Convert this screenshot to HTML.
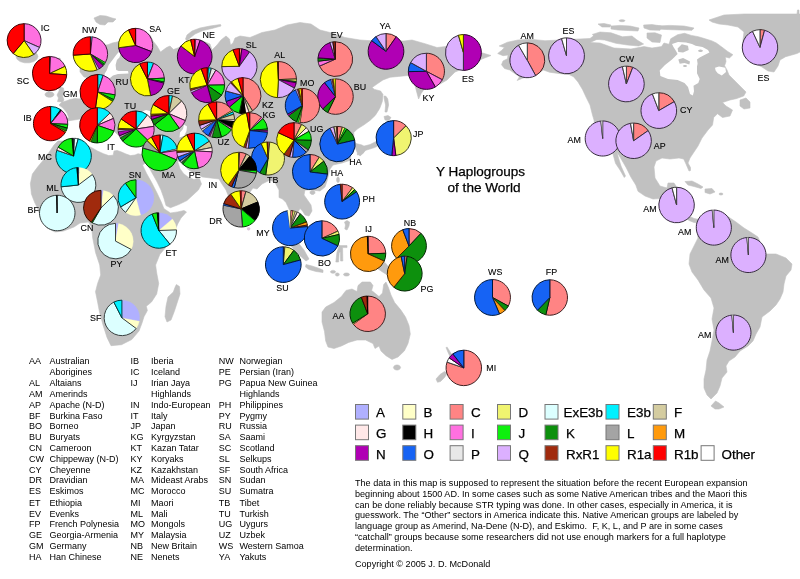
<!DOCTYPE html>
<html lang="en"><head><meta charset="utf-8"><title>Y Haplogroups of the World</title>
<style>html,body{margin:0;padding:0;background:#fff}body{width:800px;height:579px;overflow:hidden}svg{display:block}text{font-family:"Liberation Sans",Arial,Helvetica,sans-serif;fill:#000}.s{font-size:9px}.b{font-size:13.4px;fill:#000;stroke:#000;stroke-width:0.25px}.l{font-size:9.6px;stroke:#000;stroke-width:0.12px}</style></head><body>
<svg width="800" height="579" viewBox="0 0 800 579">
<rect width="800" height="579" fill="#fff"/>
<g filter="url(#bl)"><path d="M84.0,77.0L80.0,72.0L80.0,62.0L86.0,52.0L98.0,46.0L108.0,44.7L112.3,43.0L118.3,41.7L128.0,36.0L140.0,33.0L150.0,35.0L153.0,41.0L157.0,46.0L160.5,52.0L166.5,47.6L170.0,46.0L173.5,49.5L179.0,47.5L183.0,44.0L190.0,42.0L200.0,40.0L210.0,44.0L212.0,50.0L217.0,45.0L221.0,40.0L226.0,36.0L229.5,39.0L230.5,45.0L233.0,43.0L235.0,38.0L240.0,36.0L250.0,37.5L262.0,32.5L275.0,30.0L287.0,25.0L300.0,22.5L311.0,24.0L320.0,30.0L330.0,32.5L345.0,37.5L360.0,40.0L375.0,41.0L404.0,41.0L412.0,40.0L425.0,43.7L437.0,47.5L446.0,46.5L460.0,48.0L481.0,52.5L491.0,55.5L482.0,59.0L470.0,66.0L455.0,72.0L447.0,80.0L440.0,84.0L428.0,87.0L424.6,88.5L421.0,93.7L418.6,99.0L416.0,89.4L414.0,80.0L408.0,75.5L398.7,76.4L390.0,77.3L383.0,79.9L377.0,84.0L372.0,87.6L374.5,89.4L380.6,91.0L383.0,94.5L382.3,101.5L379.7,108.4L375.4,115.3L370.0,120.4L364.0,124.8L357.3,129.0L353.8,132.5L354.0,140.0L356.0,143.5L362.0,145.0L365.0,147.0L364.0,152.5L360.0,156.0L357.0,152.0L355.0,147.0L350.0,152.0L351.0,160.0L342.0,163.0L333.0,165.0L330.0,169.0L328.5,175.0L327.0,181.0L325.0,187.0L320.0,191.0L312.0,190.0L305.0,190.0L304.0,195.0L307.5,200.0L311.0,205.0L312.0,211.0L309.0,216.0L305.0,215.0L302.5,211.0L300.0,208.5L298.0,212.0L301.0,218.0L304.0,226.0L307.0,233.0L305.0,237.0L300.0,232.0L296.0,224.0L292.0,216.0L289.0,209.0L286.0,202.5L282.5,199.0L279.0,197.5L279.0,190.0L275.0,182.5L270.0,180.0L262.0,184.0L257.0,189.0L253.0,188.0L250.0,192.0L249.0,198.0L247.0,210.0L244.0,221.0L242.0,226.0L238.0,222.0L234.0,212.0L230.0,200.0L226.0,190.0L222.0,184.0L219.0,179.0L210.7,178.0L202.4,177.0L199.5,175.5L195.0,173.5L188.7,170.0L185.0,166.0L182.0,161.0L178.0,161.0L178.0,162.5L180.0,168.7L183.7,173.7L188.7,177.5L194.0,179.5L197.0,178.5L199.5,178.7L201.5,184.0L198.4,190.0L193.0,195.0L187.0,200.5L178.7,204.6L170.5,207.7L166.0,205.6L164.0,198.4L161.0,190.0L157.0,181.8L151.8,172.5L147.7,165.0L145.5,163.0L142.5,165.0L146.6,173.5L151.8,182.8L157.0,193.0L161.0,201.5L164.0,208.7L170.5,213.0L177.7,211.9L184.0,210.5L186.5,212.0L181.0,218.0L177.7,224.0L172.0,238.0L165.0,248.3L159.8,254.5L155.6,265.0L156.7,273.0L158.7,283.5L156.7,294.0L151.5,302.0L146.3,306.3L147.4,310.5L144.0,316.7L142.0,323.0L139.0,331.0L131.8,339.5L121.5,344.7L111.0,345.7L107.0,337.4L103.0,325.0L99.5,312.0L97.6,302.0L95.5,291.8L97.6,283.5L100.7,275.0L99.7,265.0L95.5,252.4L94.7,248.0L92.6,237.5L91.6,227.0L88.5,222.0L80.0,223.0L74.0,227.0L63.6,231.0L55.0,232.0L47.0,228.0L41.0,218.0L37.6,208.5L34.5,202.0L31.4,194.0L30.4,183.6L32.4,174.0L37.6,167.0L42.8,160.7L49.0,152.4L54.0,145.0L58.0,141.0L66.0,141.0L76.0,141.0L86.0,145.0L92.2,148.0L97.5,151.0L103.5,153.7L108.7,155.6L113.2,155.2L114.0,151.0L117.0,150.4L121.5,152.0L126.0,154.0L130.5,155.6L135.0,155.0L138.0,153.7L141.7,154.5L144.0,158.0L145.5,163.0L144.0,152.0L143.0,147.0L138.0,144.0L130.0,142.0L122.0,138.0L117.0,134.0L114.0,131.0L110.0,134.0L104.0,133.0L98.0,132.0L92.0,126.0L86.0,122.0L80.0,119.0L74.0,120.0L67.0,121.0L66.0,128.0L60.0,136.0L54.0,138.0L42.0,137.0L37.0,130.0L36.0,118.0L40.0,110.0L50.0,108.0L60.0,110.0L66.0,118.0L69.0,118.0L67.0,113.0L63.0,108.0L59.0,105.0L62.0,102.0L66.0,101.0L70.0,99.5L75.0,98.5L80.0,99.0L82.0,92.0L84.0,86.0L88.0,82.0L90.0,78.0Z M60.0,87.0L63.5,88.0L64.0,92.0L62.5,96.0L64.0,100.0L62.0,102.0L57.5,101.5L58.5,98.0L57.0,95.0L59.0,91.0Z M54.0,94.5L53.6,95.7L52.3,96.7L50.5,97.2L48.5,97.2L46.7,96.7L45.4,95.7L45.0,94.5L45.4,93.3L46.7,92.3L48.5,91.8L50.5,91.8L52.3,92.3L53.6,93.3Z M52.0,60.0L60.0,58.0L62.0,66.0L58.0,78.0L54.0,88.0L50.0,84.0L50.0,70.0Z M38.0,56.5L36.9,59.3L33.9,61.6L29.4,62.8L24.6,62.8L20.1,61.6L17.1,59.3L16.0,56.5L17.1,53.7L20.1,51.4L24.6,50.2L29.4,50.2L33.9,51.4L36.9,53.7Z M94.0,18.0L100.0,15.5L106.0,16.0L112.0,18.0L116.0,19.0L113.0,22.0L108.0,22.0L105.0,25.0L100.0,24.5L96.0,22.0Z M185.5,39.0L187.0,35.0L192.0,31.0L200.0,28.0L210.0,26.0L220.5,24.5L221.0,26.0L212.0,28.5L203.0,30.5L195.0,34.0L190.0,38.0L187.0,41.0Z M384.0,96.0L386.0,96.3L387.8,99.0L388.6,105.0L387.0,112.0L385.0,112.0L385.6,105.0L384.2,99.0Z M377.0,141.0L381.0,137.0L385.0,131.0L388.0,124.0L390.0,120.5L393.0,122.0L392.0,128.0L389.0,134.0L384.0,141.0L378.9,145.6L374.5,147.6L366.0,150.2L360.7,154.5L357.3,155.0L357.5,150.0L362.5,146.4L370.0,144.6Z M384.0,116.5L388.0,115.5L391.0,117.5L389.0,120.5L385.0,120.0Z M339.4,179.8L339.3,181.0L338.9,182.0L338.3,182.5L337.7,182.5L337.1,182.0L336.7,181.0L336.6,179.8L336.7,178.6L337.1,177.6L337.7,177.1L338.3,177.1L338.9,177.6L339.3,178.6Z M315.0,192.5L314.8,193.4L314.1,194.1L313.1,194.4L311.9,194.4L310.9,194.1L310.2,193.4L310.0,192.5L310.2,191.6L310.9,190.9L311.9,190.6L313.1,190.6L314.1,190.9L314.8,191.6Z M176.4,284.5L179.5,286.6L180.0,294.0L177.4,302.0L174.3,311.5L171.0,320.0L167.0,322.0L165.0,316.7L166.0,306.3L168.0,297.0L173.3,292.0L175.3,286.6Z M337.0,186.0L341.0,184.0L343.0,190.0L341.0,196.0L338.0,193.0Z M344.5,222.0L347.0,220.5L349.6,222.0L349.0,226.0L347.0,230.0L344.8,229.0L345.5,225.0Z M283.0,231.0L288.0,232.0L296.0,240.0L304.0,250.0L309.0,259.0L306.0,261.0L298.0,254.0L290.0,245.0L284.0,237.0Z M306.0,264.5L312.0,266.0L318.0,268.0L323.0,270.0L323.0,272.5L316.0,271.5L309.0,269.5L305.5,267.0Z M335.6,271.8L335.3,272.4L334.6,272.9L333.6,273.2L332.4,273.2L331.4,272.9L330.7,272.4L330.4,271.8L330.7,271.2L331.4,270.7L332.4,270.4L333.6,270.4L334.6,270.7L335.3,271.2Z M339.3,274.5L339.1,275.2L338.5,275.8L337.7,276.1L336.9,276.1L336.1,275.8L335.5,275.2L335.3,274.5L335.5,273.8L336.1,273.2L336.9,272.9L337.7,272.9L338.5,273.2L339.1,273.8Z M349.5,274.5L349.2,275.2L348.4,275.7L347.2,276.0L345.8,276.0L344.6,275.7L343.8,275.2L343.5,274.5L343.8,273.8L344.6,273.3L345.8,273.0L347.2,273.0L348.4,273.3L349.2,273.8Z M313.0,232.0L320.0,226.0L328.0,222.0L333.0,226.0L331.0,234.0L333.0,242.0L328.0,250.0L320.0,252.0L314.0,246.0L311.0,239.0Z M339.0,245.6L347.0,245.6L347.0,247.6L342.6,247.6L342.8,261.0L340.6,261.0L340.4,252.0L339.2,252.5L338.6,262.0L335.8,262.0L337.0,252.0L338.6,247.6Z M355.0,248.0L362.0,244.0L372.0,247.0L383.0,262.0L385.0,262.6L390.0,268.7L398.0,272.0L408.0,280.0L414.0,287.0L410.0,288.0L402.0,284.0L394.0,281.0L387.0,274.7L382.5,272.0L374.0,266.0L366.0,262.0L358.0,256.0Z M410.0,257.0L416.0,258.0L420.0,255.0L421.0,258.0L416.0,261.0L410.0,260.0Z M322.0,312.0L325.7,307.0L334.0,302.5L341.4,296.5L346.0,290.4L352.0,289.0L357.0,291.6L358.0,285.6L362.0,282.0L370.4,282.0L373.0,285.6L371.6,290.4L373.0,291.6L379.0,296.5L382.5,293.0L383.7,284.4L386.0,282.0L388.6,288.0L391.0,295.0L394.6,302.5L400.7,309.8L405.5,317.0L409.0,325.5L410.3,334.0L408.0,343.6L404.3,351.0L398.0,357.0L392.0,359.4L386.0,355.7L381.0,351.0L379.0,346.0L375.0,348.5L373.0,343.6L365.6,340.0L357.0,340.0L348.7,342.4L341.4,346.0L334.0,348.5L328.0,347.0L325.7,341.0L324.5,331.5L322.0,322.0Z M400.6,367.5L400.2,368.6L399.2,369.5L397.8,370.0L396.2,370.0L394.8,369.5L393.8,368.6L393.4,367.5L393.8,366.4L394.8,365.5L396.2,365.0L397.8,365.0L399.2,365.5L400.2,366.4Z M446.0,347.5L447.2,347.2L450.5,352.5L454.0,358.0L458.0,360.0L456.0,364.0L452.0,360.0L448.5,353.5Z M436.0,379.0L440.0,374.5L444.5,371.5L447.5,373.0L444.5,377.5L440.5,381.5L437.5,382.3Z M497.7,53.5L501.5,50.5L504.5,47.5L499.2,46.0L507.5,42.2L518.0,40.0L530.0,39.2L545.0,40.7L560.0,40.0L575.0,39.2L590.0,38.5L596.0,34.0L600.0,38.0L590.0,42.5L600.0,43.0L614.0,48.0L631.0,49.0L644.0,46.6L652.0,48.0L661.5,46.6L664.0,43.0L669.0,44.3L670.7,38.8L677.6,34.7L684.5,33.3L691.4,35.4L698.3,36.7L705.2,38.8L712.0,40.9L716.3,43.0L721.8,47.0L727.3,51.2L732.9,54.7L729.4,58.0L725.3,57.0L726.0,61.6L724.6,65.7L727.0,70.0L729.0,75.0L734.0,80.0L740.0,86.0L746.0,92.0L743.7,96.0L736.0,98.7L730.0,100.0L722.5,102.5L726.0,106.0L732.5,110.0L730.0,116.0L722.5,117.5L717.5,113.7L713.7,117.5L712.5,125.0L708.0,130.0L702.0,138.0L698.0,146.0L694.0,152.0L690.0,158.0L688.0,163.0L690.5,167.5L690.5,170.5L689.0,171.0L686.0,164.0L683.7,159.0L679.0,158.0L670.0,159.0L662.0,158.0L656.0,161.0L654.0,167.0L655.0,178.0L660.0,186.0L667.0,188.0L668.0,183.0L674.0,183.0L676.0,186.0L674.0,192.0L680.0,196.0L686.0,202.0L689.0,210.0L690.0,216.5L694.0,218.5L699.0,219.5L700.0,223.0L694.0,222.5L689.0,220.5L684.0,216.0L676.0,210.0L666.0,204.0L659.0,198.6L653.0,199.0L645.0,196.0L638.0,191.3L635.8,185.0L631.0,177.3L626.4,168.0L620.0,157.0L617.0,152.0L618.5,158.0L621.0,166.0L625.5,176.0L624.3,177.5L620.0,170.0L615.5,163.3L613.2,154.8L611.0,150.0L606.0,146.0L598.0,140.0L595.0,130.0L594.0,120.0L592.5,115.0L590.0,105.0L586.0,97.0L582.5,89.5L578.0,82.0L573.5,76.7L569.0,74.5L560.0,73.7L549.5,72.2L543.5,70.0L535.0,75.0L522.5,78.2L517.2,80.5L519.5,76.7L514.0,73.0L509.7,70.0L504.5,68.5L501.5,64.7L503.0,61.0L507.5,58.7L508.0,55.0L503.0,55.7Z M709.0,20.0L724.0,15.0L744.0,14.0L797.0,14.0L797.5,10.0L799.0,10.0L799.0,14.0L801.0,14.0L801.0,51.5L797.0,53.5L791.8,55.0L785.6,56.7L780.0,60.0L778.0,66.0L774.0,72.0L768.0,71.0L762.0,67.0L752.0,62.0L744.0,50.0L743.0,40.0L744.0,32.0L738.0,27.0L728.0,25.0L719.0,24.0L712.0,22.0Z M592.4,34.4L600.0,32.0L611.0,32.8L622.5,36.8L632.0,36.0L637.0,40.0L643.6,44.0L638.8,46.0L627.4,45.0L616.0,43.3L604.6,40.0L596.5,39.3Z M598.0,24.0L604.0,23.5L611.0,25.0L610.0,27.0L602.0,27.0Z M611.0,26.0L620.0,25.4L630.0,26.0L639.0,28.0L638.0,31.0L628.0,30.5L618.0,30.0L611.0,29.0Z M625.0,20.7L624.7,21.1L623.9,21.5L622.7,21.7L621.3,21.7L620.1,21.5L619.3,21.1L619.0,20.7L619.3,20.3L620.1,19.9L621.3,19.7L622.7,19.7L623.9,19.9L624.7,20.3Z M643.6,25.0L652.0,24.6L661.5,26.0L660.0,30.3L650.0,30.0L644.0,28.0Z M656.6,26.0L670.0,25.4L684.0,26.0L694.0,28.0L692.0,30.3L680.0,30.0L666.0,29.5L657.0,29.0Z M647.0,33.0L655.0,32.8L661.5,35.0L660.0,42.5L652.0,42.0L647.0,38.0Z M740.0,100.0L746.0,98.0L750.0,102.0L750.0,108.0L744.0,109.0L740.0,106.0Z M685.0,181.5L692.0,181.0L698.0,184.0L703.0,187.0L701.0,188.5L694.0,186.5L688.0,185.0Z M705.0,189.0L712.0,188.5L715.0,192.0L710.0,194.0L705.0,192.5Z M723.0,194.0L722.8,194.4L722.2,194.8L721.4,195.0L720.6,195.0L719.8,194.8L719.2,194.4L719.0,194.0L719.2,193.6L719.8,193.2L720.6,193.0L721.4,193.0L722.2,193.2L722.8,193.6Z M700.0,220.0L704.0,216.0L710.0,214.0L722.0,212.0L730.0,218.0L736.0,222.0L744.0,228.0L752.0,233.0L758.0,237.0L765.0,254.0L776.0,254.0L786.0,258.0L792.0,264.0L791.0,270.0L786.0,276.0L784.0,284.0L783.0,292.0L780.0,299.0L776.0,305.0L770.0,311.0L762.0,317.0L760.0,327.0L756.0,334.0L753.0,341.0L748.0,346.0L740.0,351.0L735.0,357.0L729.0,361.0L726.0,366.0L727.0,372.0L722.0,378.0L720.0,386.0L717.0,393.0L711.0,399.0L707.0,395.0L704.0,388.0L704.0,379.0L706.0,370.0L707.0,360.0L710.0,351.0L712.0,341.0L714.0,330.0L712.0,319.0L714.0,308.0L711.0,298.0L704.0,290.0L698.0,280.0L692.0,272.0L689.0,264.0L690.0,254.0L694.0,246.0L698.0,238.0L697.0,230.0L696.0,224.0Z M711.0,406.0L715.5,401.0L719.0,403.0L724.0,407.0L719.0,409.0L715.0,409.0Z" fill="#c1c1c1" stroke="#c1c1c1" stroke-width="0.6" stroke-linejoin="round"/>
<path d="M119.4,51.2L121.2,52.5L119.4,57.5L116.9,60.0L115.6,65.0L116.2,70.0L118.7,71.0L128.0,71.0L128.5,73.5L118.0,74.0L113.0,75.5L110.0,78.0L105.0,78.0L104.5,74.0L106.9,70.0L108.7,65.0L112.5,60.0L116.2,55.0Z M141.0,112.0L146.0,110.0L150.0,111.0L152.0,114.0L149.0,116.5L144.0,116.0L141.0,115.0Z M184.0,124.5L187.0,126.5L186.5,131.0L184.0,136.0L179.5,137.5L180.0,132.5L183.0,129.0Z M676.0,51.0L673.5,47.0L672.0,44.0L678.0,42.0L686.0,42.5L692.0,44.0L695.6,45.7L702.5,47.0L708.0,49.9L709.4,52.6L705.0,54.7L699.7,57.5L697.0,59.5L697.6,63.7L697.0,66.4L697.0,73.3L699.7,78.9L698.3,83.0L693.5,85.8L694.0,91.3L692.8,95.4L690.0,94.0L688.0,87.0L684.5,83.0L677.6,80.0L668.0,78.9L660.4,76.0L659.7,70.6L665.0,65.0L672.0,59.5L677.6,54.0Z M715.0,67.8L719.0,66.4L725.3,67.8L726.0,72.0L721.8,75.4L717.7,73.3L715.6,70.6Z" fill="#fff"/>
<path d="M250.3,228.8L250.1,229.5L249.7,230.1L249.0,230.4L248.2,230.4L247.5,230.1L247.1,229.5L246.9,228.8L247.1,228.1L247.5,227.5L248.2,227.2L249.0,227.2L249.7,227.5L250.1,228.1Z" fill="#dcc8dc"/>
<path d="M677.6,48.5L681.8,44.3L688.0,45.7L688.7,49.9L683.1,52.6L678.3,51.9Z M678.3,59.5L683.1,57.9L690.0,61.6L689.4,64.4L684.5,63.0L679.7,63.7Z M687.0,66.0L686.8,66.4L686.2,66.8L685.4,67.0L684.6,67.0L683.8,66.8L683.2,66.4L683.0,66.0L683.2,65.6L683.8,65.2L684.6,65.0L685.4,65.0L686.2,65.2L686.8,65.6Z M702.9,50.8L702.7,51.3L702.0,51.7L701.0,52.0L700.0,52.0L699.0,51.7L698.3,51.3L698.1,50.8L698.3,50.3L699.0,49.9L700.0,49.6L701.0,49.6L702.0,49.9L702.7,50.3Z" fill="#c1c1c1"/>
</g>
<defs><filter id="bl" x="-2%" y="-2%" width="104%" height="104%"><feGaussianBlur stdDeviation="0.45"/></filter><filter id="tb" x="-1%" y="-1%" width="102%" height="102%"><feGaussianBlur stdDeviation="0.3"/></filter><filter id="pb" x="-1%" y="-1%" width="102%" height="102%"><feGaussianBlur stdDeviation="0.3"/></filter></defs>
<g filter="url(#pb)">
<g><path d="M24.10,40.60L24.10,23.65A16.95,16.95 0 0,1 39.58,47.49Z" fill="#ff70e0" stroke="#3f1c38" stroke-width="1.0" stroke-linejoin="round"/><path d="M24.10,40.60L39.58,47.49A16.95,16.95 0 0,1 33.82,54.48Z" fill="#dcb0ff" stroke="#372c3f" stroke-width="1.0" stroke-linejoin="round"/><path d="M24.10,40.60L33.82,54.48A16.95,16.95 0 0,1 13.20,53.58Z" fill="#ffff00" stroke="#3f3f00" stroke-width="1.0" stroke-linejoin="round"/><path d="M24.10,40.60L13.20,53.58A16.95,16.95 0 0,1 24.10,23.65Z" fill="#ff0000" stroke="#3f0000" stroke-width="1.0" stroke-linejoin="round"/></g>
<g><path d="M49.60,73.60L49.60,56.45A17.15,17.15 0 0,1 50.50,56.47Z" fill="#000000" stroke="#000000" stroke-width="0.6" stroke-linejoin="round"/><path d="M49.60,73.60L50.50,56.47A17.15,17.15 0 0,1 65.14,66.35Z" fill="#ff70e0" stroke="#3f1c38" stroke-width="1.0" stroke-linejoin="round"/><path d="M49.60,73.60L65.14,66.35A17.15,17.15 0 0,1 66.71,74.80Z" fill="#ffff00" stroke="#3f3f00" stroke-width="1.0" stroke-linejoin="round"/><path d="M49.60,73.60L66.71,74.80A17.15,17.15 0 1,1 49.60,56.45Z" fill="#ff0000" stroke="#3f0000" stroke-width="1.0" stroke-linejoin="round"/></g>
<g><path d="M90.40,54.00L90.40,36.75A17.25,17.25 0 0,1 92.20,36.84Z" fill="#00f0ff" stroke="#003c3f" stroke-width="0.6" stroke-linejoin="round"/><path d="M90.40,54.00L92.20,36.84A17.25,17.25 0 0,1 105.34,62.62Z" fill="#ff70e0" stroke="#3f1c38" stroke-width="1.0" stroke-linejoin="round"/><path d="M90.40,54.00L105.34,62.62A17.25,17.25 0 0,1 104.36,64.14Z" fill="#10f010" stroke="#043c04" stroke-width="0.6" stroke-linejoin="round"/><path d="M90.40,54.00L104.36,64.14A17.25,17.25 0 0,1 103.22,65.54Z" fill="#109010" stroke="#042404" stroke-width="0.6" stroke-linejoin="round"/><path d="M90.40,54.00L103.22,65.54A17.25,17.25 0 0,1 99.03,68.94Z" fill="#b000b4" stroke="#2c002d" stroke-width="1.0" stroke-linejoin="round"/><path d="M90.40,54.00L99.03,68.94A17.25,17.25 0 0,1 97.14,69.88Z" fill="#dcb0ff" stroke="#372c3f" stroke-width="0.6" stroke-linejoin="round"/><path d="M90.40,54.00L97.14,69.88A17.25,17.25 0 0,1 73.19,55.20Z" fill="#ffff00" stroke="#3f3f00" stroke-width="1.0" stroke-linejoin="round"/><path d="M90.40,54.00L73.19,55.20A17.25,17.25 0 0,1 90.40,36.75Z" fill="#ff0000" stroke="#3f0000" stroke-width="1.0" stroke-linejoin="round"/></g>
<g><path d="M135.60,45.50L135.60,28.35A17.15,17.15 0 0,1 151.61,51.65Z" fill="#ff70e0" stroke="#3f1c38" stroke-width="1.0" stroke-linejoin="round"/><path d="M135.60,45.50L151.61,51.65A17.15,17.15 0 0,1 118.60,47.74Z" fill="#b000b4" stroke="#2c002d" stroke-width="1.0" stroke-linejoin="round"/><path d="M135.60,45.50L118.60,47.74A17.15,17.15 0 0,1 128.62,29.83Z" fill="#ffff00" stroke="#3f3f00" stroke-width="1.0" stroke-linejoin="round"/><path d="M135.60,45.50L128.62,29.83A17.15,17.15 0 0,1 135.60,28.35Z" fill="#ff0000" stroke="#3f0000" stroke-width="1.0" stroke-linejoin="round"/></g>
<g><path d="M147.40,79.00L147.40,62.05A16.95,16.95 0 0,1 153.61,63.23Z" fill="#00f0ff" stroke="#003c3f" stroke-width="1.0" stroke-linejoin="round"/><path d="M147.40,79.00L153.61,63.23A16.95,16.95 0 0,1 164.33,78.11Z" fill="#ff70e0" stroke="#3f1c38" stroke-width="1.0" stroke-linejoin="round"/><path d="M147.40,79.00L164.33,78.11A16.95,16.95 0 0,1 164.09,81.94Z" fill="#10f010" stroke="#043c04" stroke-width="1.0" stroke-linejoin="round"/><path d="M147.40,79.00L164.09,81.94A16.95,16.95 0 0,1 163.85,83.10Z" fill="#109010" stroke="#042404" stroke-width="0.6" stroke-linejoin="round"/><path d="M147.40,79.00L163.85,83.10A16.95,16.95 0 0,1 150.63,95.64Z" fill="#b000b4" stroke="#2c002d" stroke-width="1.0" stroke-linejoin="round"/><path d="M147.40,79.00L150.63,95.64A16.95,16.95 0 0,1 139.70,63.90Z" fill="#ffff00" stroke="#3f3f00" stroke-width="1.0" stroke-linejoin="round"/><path d="M147.40,79.00L139.70,63.90A16.95,16.95 0 0,1 147.40,62.05Z" fill="#ff0000" stroke="#3f0000" stroke-width="1.0" stroke-linejoin="round"/></g>
<g><path d="M97.70,92.10L97.70,74.45A17.65,17.65 0 0,1 103.15,75.31Z" fill="#00f0ff" stroke="#003c3f" stroke-width="1.0" stroke-linejoin="round"/><path d="M97.70,92.10L103.15,75.31A17.65,17.65 0 0,1 115.13,94.86Z" fill="#ff70e0" stroke="#3f1c38" stroke-width="1.0" stroke-linejoin="round"/><path d="M97.70,92.10L115.13,94.86A17.65,17.65 0 0,1 113.70,99.56Z" fill="#10f010" stroke="#043c04" stroke-width="1.0" stroke-linejoin="round"/><path d="M97.70,92.10L113.70,99.56A17.65,17.65 0 0,1 112.67,101.45Z" fill="#109010" stroke="#042404" stroke-width="0.6" stroke-linejoin="round"/><path d="M97.70,92.10L112.67,101.45A17.65,17.65 0 0,1 95.24,109.58Z" fill="#ffff00" stroke="#3f3f00" stroke-width="1.0" stroke-linejoin="round"/><path d="M97.70,92.10L95.24,109.58A17.65,17.65 0 0,1 97.70,74.45Z" fill="#ff0000" stroke="#3f0000" stroke-width="1.0" stroke-linejoin="round"/></g>
<g><path d="M97.30,125.30L97.30,107.65A17.65,17.65 0 0,1 110.00,113.04Z" fill="#00f0ff" stroke="#003c3f" stroke-width="1.0" stroke-linejoin="round"/><path d="M97.30,125.30L110.00,113.04A17.65,17.65 0 0,1 113.55,118.40Z" fill="#ffe8e8" stroke="#3f3a3a" stroke-width="1.0" stroke-linejoin="round"/><path d="M97.30,125.30L113.55,118.40A17.65,17.65 0 0,1 113.99,131.05Z" fill="#ff70e0" stroke="#3f1c38" stroke-width="1.0" stroke-linejoin="round"/><path d="M97.30,125.30L113.99,131.05A17.65,17.65 0 0,1 97.30,142.95Z" fill="#10f010" stroke="#043c04" stroke-width="1.0" stroke-linejoin="round"/><path d="M97.30,125.30L97.30,142.95A17.65,17.65 0 0,1 90.69,141.66Z" fill="#109010" stroke="#042404" stroke-width="1.0" stroke-linejoin="round"/><path d="M97.30,125.30L90.69,141.66A17.65,17.65 0 0,1 89.56,141.16Z" fill="#ffff00" stroke="#3f3f00" stroke-width="0.6" stroke-linejoin="round"/><path d="M97.30,125.30L89.56,141.16A17.65,17.65 0 0,1 97.30,107.65Z" fill="#ff0000" stroke="#3f0000" stroke-width="1.0" stroke-linejoin="round"/></g>
<g><path d="M50.60,123.60L50.60,106.45A17.15,17.15 0 0,1 60.68,109.73Z" fill="#00f0ff" stroke="#003c3f" stroke-width="1.0" stroke-linejoin="round"/><path d="M50.60,123.60L60.68,109.73A17.15,17.15 0 0,1 61.62,110.46Z" fill="#000000" stroke="#000000" stroke-width="0.6" stroke-linejoin="round"/><path d="M50.60,123.60L61.62,110.46A17.15,17.15 0 0,1 67.73,124.35Z" fill="#ff70e0" stroke="#3f1c38" stroke-width="1.0" stroke-linejoin="round"/><path d="M50.60,123.60L67.73,124.35A17.15,17.15 0 0,1 67.17,128.04Z" fill="#10f010" stroke="#043c04" stroke-width="1.0" stroke-linejoin="round"/><path d="M50.60,123.60L67.17,128.04A17.15,17.15 0 0,1 65.88,131.39Z" fill="#109010" stroke="#042404" stroke-width="1.0" stroke-linejoin="round"/><path d="M50.60,123.60L65.88,131.39A17.15,17.15 0 0,1 65.30,132.43Z" fill="#ffff00" stroke="#3f3f00" stroke-width="0.6" stroke-linejoin="round"/><path d="M50.60,123.60L65.30,132.43A17.15,17.15 0 1,1 50.60,106.45Z" fill="#ff0000" stroke="#3f0000" stroke-width="1.0" stroke-linejoin="round"/></g>
<g><path d="M136.10,129.00L136.10,110.95A18.05,18.05 0 0,1 147.46,114.97Z" fill="#00f0ff" stroke="#003c3f" stroke-width="1.0" stroke-linejoin="round"/><path d="M136.10,129.00L147.46,114.97A18.05,18.05 0 0,1 153.95,126.33Z" fill="#ffe8e8" stroke="#3f3a3a" stroke-width="1.0" stroke-linejoin="round"/><path d="M136.10,129.00L153.95,126.33A18.05,18.05 0 0,1 149.08,141.54Z" fill="#ff70e0" stroke="#3f1c38" stroke-width="1.0" stroke-linejoin="round"/><path d="M136.10,129.00L149.08,141.54A18.05,18.05 0 0,1 122.69,141.08Z" fill="#10f010" stroke="#043c04" stroke-width="1.0" stroke-linejoin="round"/><path d="M136.10,129.00L122.69,141.08A18.05,18.05 0 0,1 120.31,137.75Z" fill="#109010" stroke="#042404" stroke-width="1.0" stroke-linejoin="round"/><path d="M136.10,129.00L120.31,137.75A18.05,18.05 0 0,1 119.36,135.76Z" fill="#a4a4a4" stroke="#292929" stroke-width="0.6" stroke-linejoin="round"/><path d="M136.10,129.00L119.36,135.76A18.05,18.05 0 0,1 118.23,131.51Z" fill="#b000b4" stroke="#2c002d" stroke-width="1.0" stroke-linejoin="round"/><path d="M136.10,129.00L118.23,131.51A18.05,18.05 0 0,1 118.06,129.63Z" fill="#dcb0ff" stroke="#372c3f" stroke-width="0.6" stroke-linejoin="round"/><path d="M136.10,129.00L118.06,129.63A18.05,18.05 0 0,1 118.06,128.37Z" fill="#a02c10" stroke="#280b04" stroke-width="0.6" stroke-linejoin="round"/><path d="M136.10,129.00L118.06,128.37A18.05,18.05 0 0,1 121.14,118.91Z" fill="#ffff00" stroke="#3f3f00" stroke-width="1.0" stroke-linejoin="round"/><path d="M136.10,129.00L121.14,118.91A18.05,18.05 0 0,1 136.10,110.95Z" fill="#ff0000" stroke="#3f0000" stroke-width="1.0" stroke-linejoin="round"/></g>
<g><path d="M168.80,113.60L168.80,95.55A18.05,18.05 0 0,1 172.55,95.94Z" fill="#00f0ff" stroke="#003c3f" stroke-width="1.0" stroke-linejoin="round"/><path d="M168.80,113.60L172.55,95.94A18.05,18.05 0 0,1 181.70,100.97Z" fill="#d4cca0" stroke="#353328" stroke-width="1.0" stroke-linejoin="round"/><path d="M168.80,113.60L181.70,100.97A18.05,18.05 0 0,1 185.42,120.65Z" fill="#ffe8e8" stroke="#3f3a3a" stroke-width="1.0" stroke-linejoin="round"/><path d="M168.80,113.60L185.42,120.65A18.05,18.05 0 0,1 179.28,128.29Z" fill="#ff70e0" stroke="#3f1c38" stroke-width="1.0" stroke-linejoin="round"/><path d="M168.80,113.60L179.28,128.29A18.05,18.05 0 0,1 154.58,124.71Z" fill="#10f010" stroke="#043c04" stroke-width="1.0" stroke-linejoin="round"/><path d="M168.80,113.60L154.58,124.71A18.05,18.05 0 0,1 151.73,119.48Z" fill="#109010" stroke="#042404" stroke-width="1.0" stroke-linejoin="round"/><path d="M168.80,113.60L151.73,119.48A18.05,18.05 0 0,1 150.93,116.11Z" fill="#b000b4" stroke="#2c002d" stroke-width="1.0" stroke-linejoin="round"/><path d="M168.80,113.60L150.93,116.11A18.05,18.05 0 0,1 150.76,114.23Z" fill="#a02c10" stroke="#280b04" stroke-width="0.6" stroke-linejoin="round"/><path d="M168.80,113.60L150.76,114.23A18.05,18.05 0 0,1 153.17,104.57Z" fill="#ffff00" stroke="#3f3f00" stroke-width="1.0" stroke-linejoin="round"/><path d="M168.80,113.60L153.17,104.57A18.05,18.05 0 0,1 168.80,95.55Z" fill="#ff0000" stroke="#3f0000" stroke-width="1.0" stroke-linejoin="round"/></g>
<g><path d="M159.90,152.90L159.90,134.95A17.95,17.95 0 0,1 160.53,134.96Z" fill="#ff0000" stroke="#3f0000" stroke-width="0.6" stroke-linejoin="round"/><path d="M159.90,152.90L160.53,134.96A17.95,17.95 0 0,1 163.02,135.22Z" fill="#dcffff" stroke="#373f3f" stroke-width="1.0" stroke-linejoin="round"/><path d="M159.90,152.90L163.02,135.22A17.95,17.95 0 0,1 177.39,148.86Z" fill="#00f0ff" stroke="#003c3f" stroke-width="1.0" stroke-linejoin="round"/><path d="M159.90,152.90L177.39,148.86A17.95,17.95 0 0,1 177.68,150.40Z" fill="#ffe8e8" stroke="#3f3a3a" stroke-width="0.6" stroke-linejoin="round"/><path d="M159.90,152.90L177.68,150.40A17.95,17.95 0 0,1 176.42,159.91Z" fill="#ff70e0" stroke="#3f1c38" stroke-width="1.0" stroke-linejoin="round"/><path d="M159.90,152.90L176.42,159.91A17.95,17.95 0 0,1 142.65,147.95Z" fill="#10f010" stroke="#043c04" stroke-width="1.0" stroke-linejoin="round"/><path d="M159.90,152.90L142.65,147.95A17.95,17.95 0 0,1 146.99,140.43Z" fill="#a4a4a4" stroke="#292929" stroke-width="1.0" stroke-linejoin="round"/><path d="M159.90,152.90L146.99,140.43A17.95,17.95 0 0,1 151.47,137.05Z" fill="#ffff00" stroke="#3f3f00" stroke-width="1.0" stroke-linejoin="round"/><path d="M159.90,152.90L151.47,137.05A17.95,17.95 0 0,1 159.90,134.95Z" fill="#ff0000" stroke="#3f0000" stroke-width="1.0" stroke-linejoin="round"/></g>
<g><path d="M194.50,150.90L194.50,133.15A17.75,17.75 0 0,1 209.39,141.23Z" fill="#00f0ff" stroke="#003c3f" stroke-width="1.0" stroke-linejoin="round"/><path d="M194.50,150.90L209.39,141.23A17.75,17.75 0 0,1 211.92,147.51Z" fill="#d4cca0" stroke="#353328" stroke-width="1.0" stroke-linejoin="round"/><path d="M194.50,150.90L211.92,147.51A17.75,17.75 0 0,1 212.23,151.83Z" fill="#ffe8e8" stroke="#3f3a3a" stroke-width="1.0" stroke-linejoin="round"/><path d="M194.50,150.90L212.23,151.83A17.75,17.75 0 0,1 198.19,168.26Z" fill="#ff70e0" stroke="#3f1c38" stroke-width="1.0" stroke-linejoin="round"/><path d="M194.50,150.90L198.19,168.26A17.75,17.75 0 0,1 182.62,164.09Z" fill="#10f010" stroke="#043c04" stroke-width="1.0" stroke-linejoin="round"/><path d="M194.50,150.90L182.62,164.09A17.75,17.75 0 0,1 181.31,162.78Z" fill="#109010" stroke="#042404" stroke-width="0.6" stroke-linejoin="round"/><path d="M194.50,150.90L181.31,162.78A17.75,17.75 0 0,1 179.78,160.83Z" fill="#a4a4a4" stroke="#292929" stroke-width="1.0" stroke-linejoin="round"/><path d="M194.50,150.90L179.78,160.83A17.75,17.75 0 0,1 177.82,156.97Z" fill="#1464f4" stroke="#05193d" stroke-width="1.0" stroke-linejoin="round"/><path d="M194.50,150.90L177.82,156.97A17.75,17.75 0 0,1 176.82,152.45Z" fill="#dcb0ff" stroke="#372c3f" stroke-width="1.0" stroke-linejoin="round"/><path d="M194.50,150.90L176.82,152.45A17.75,17.75 0 0,1 176.75,150.90Z" fill="#a02c10" stroke="#280b04" stroke-width="0.6" stroke-linejoin="round"/><path d="M194.50,150.90L176.75,150.90A17.75,17.75 0 0,1 187.00,134.81Z" fill="#ffff00" stroke="#3f3f00" stroke-width="1.0" stroke-linejoin="round"/><path d="M194.50,150.90L187.00,134.81A17.75,17.75 0 0,1 194.50,133.15Z" fill="#ff0000" stroke="#3f0000" stroke-width="1.0" stroke-linejoin="round"/></g>
<g><path d="M194.70,56.60L194.70,39.25A17.35,17.35 0 0,1 195.31,39.26Z" fill="#ff0000" stroke="#3f0000" stroke-width="0.6" stroke-linejoin="round"/><path d="M194.70,56.60L195.31,39.26A17.35,17.35 0 0,1 200.18,40.14Z" fill="#ff70e0" stroke="#3f1c38" stroke-width="1.0" stroke-linejoin="round"/><path d="M194.70,56.60L200.18,40.14A17.35,17.35 0 1,1 180.95,46.01Z" fill="#b000b4" stroke="#2c002d" stroke-width="1.0" stroke-linejoin="round"/><path d="M194.70,56.60L180.95,46.01A17.35,17.35 0 0,1 190.65,39.73Z" fill="#ffff00" stroke="#3f3f00" stroke-width="1.0" stroke-linejoin="round"/><path d="M194.70,56.60L190.65,39.73A17.35,17.35 0 0,1 194.70,39.25Z" fill="#ff0000" stroke="#3f0000" stroke-width="1.0" stroke-linejoin="round"/></g>
<g><path d="M207.20,85.20L207.20,67.75A17.45,17.45 0 0,1 208.42,67.79Z" fill="#ff0000" stroke="#3f0000" stroke-width="0.6" stroke-linejoin="round"/><path d="M207.20,85.20L208.42,67.79A17.45,17.45 0 0,1 211.42,68.27Z" fill="#00f0ff" stroke="#003c3f" stroke-width="1.0" stroke-linejoin="round"/><path d="M207.20,85.20L211.42,68.27A17.45,17.45 0 0,1 215.92,70.09Z" fill="#e8e8e8" stroke="#3a3a3a" stroke-width="1.0" stroke-linejoin="round"/><path d="M207.20,85.20L215.92,70.09A17.45,17.45 0 0,1 224.65,84.90Z" fill="#ff70e0" stroke="#3f1c38" stroke-width="1.0" stroke-linejoin="round"/><path d="M207.20,85.20L224.65,84.90A17.45,17.45 0 0,1 221.49,95.21Z" fill="#10f010" stroke="#043c04" stroke-width="1.0" stroke-linejoin="round"/><path d="M207.20,85.20L221.49,95.21A17.45,17.45 0 0,1 211.86,102.02Z" fill="#109010" stroke="#042404" stroke-width="1.0" stroke-linejoin="round"/><path d="M207.20,85.20L211.86,102.02A17.45,17.45 0 0,1 191.38,92.57Z" fill="#b000b4" stroke="#2c002d" stroke-width="1.0" stroke-linejoin="round"/><path d="M207.20,85.20L191.38,92.57A17.45,17.45 0 0,1 190.60,90.59Z" fill="#dcb0ff" stroke="#372c3f" stroke-width="0.6" stroke-linejoin="round"/><path d="M207.20,85.20L190.60,90.59A17.45,17.45 0 0,1 190.13,88.83Z" fill="#a02c10" stroke="#280b04" stroke-width="0.6" stroke-linejoin="round"/><path d="M207.20,85.20L190.13,88.83A17.45,17.45 0 0,1 201.23,68.80Z" fill="#ffff00" stroke="#3f3f00" stroke-width="1.0" stroke-linejoin="round"/><path d="M207.20,85.20L201.23,68.80A17.45,17.45 0 0,1 207.20,67.75Z" fill="#ff0000" stroke="#3f0000" stroke-width="1.0" stroke-linejoin="round"/></g>
<g><path d="M239.40,66.30L239.40,48.65A17.65,17.65 0 0,1 241.86,48.82Z" fill="#ff8484" stroke="#3f2121" stroke-width="1.0" stroke-linejoin="round"/><path d="M239.40,66.30L241.86,48.82A17.65,17.65 0 0,1 249.60,51.90Z" fill="#b000b4" stroke="#2c002d" stroke-width="1.0" stroke-linejoin="round"/><path d="M239.40,66.30L249.60,51.90A17.65,17.65 0 1,1 221.75,66.61Z" fill="#dcb0ff" stroke="#372c3f" stroke-width="1.0" stroke-linejoin="round"/><path d="M239.40,66.30L221.75,66.61A17.65,17.65 0 0,1 233.07,49.82Z" fill="#ffff00" stroke="#3f3f00" stroke-width="1.0" stroke-linejoin="round"/><path d="M239.40,66.30L233.07,49.82A17.65,17.65 0 0,1 239.40,48.65Z" fill="#ff0000" stroke="#3f0000" stroke-width="1.0" stroke-linejoin="round"/></g>
<g><path d="M243.00,95.60L243.00,77.65A17.95,17.95 0 0,1 252.51,110.82Z" fill="#ff8484" stroke="#3f2121" stroke-width="1.0" stroke-linejoin="round"/><path d="M243.00,95.60L252.51,110.82A17.95,17.95 0 0,1 249.14,112.47Z" fill="#d4cca0" stroke="#353328" stroke-width="1.0" stroke-linejoin="round"/><path d="M243.00,95.60L249.14,112.47A17.95,17.95 0 0,1 245.50,113.38Z" fill="#ffe8e8" stroke="#3f3a3a" stroke-width="1.0" stroke-linejoin="round"/><path d="M243.00,95.60L245.50,113.38A17.95,17.95 0 0,1 239.27,113.16Z" fill="#000000" stroke="#000000" stroke-width="1.0" stroke-linejoin="round"/><path d="M243.00,95.60L239.27,113.16A17.95,17.95 0 0,1 229.25,107.14Z" fill="#10f010" stroke="#043c04" stroke-width="1.0" stroke-linejoin="round"/><path d="M243.00,95.60L229.25,107.14A17.95,17.95 0 0,1 226.03,101.44Z" fill="#b000b4" stroke="#2c002d" stroke-width="1.0" stroke-linejoin="round"/><path d="M243.00,95.60L226.03,101.44A17.95,17.95 0 0,1 225.66,90.95Z" fill="#1464f4" stroke="#05193d" stroke-width="1.0" stroke-linejoin="round"/><path d="M243.00,95.60L225.66,90.95A17.95,17.95 0 0,1 230.53,82.69Z" fill="#dcb0ff" stroke="#372c3f" stroke-width="1.0" stroke-linejoin="round"/><path d="M243.00,95.60L230.53,82.69A17.95,17.95 0 0,1 231.46,81.85Z" fill="#a02c10" stroke="#280b04" stroke-width="0.6" stroke-linejoin="round"/><path d="M243.00,95.60L231.46,81.85A17.95,17.95 0 0,1 238.05,78.35Z" fill="#ffff00" stroke="#3f3f00" stroke-width="1.0" stroke-linejoin="round"/><path d="M243.00,95.60L238.05,78.35A17.95,17.95 0 0,1 243.00,77.65Z" fill="#ff0000" stroke="#3f0000" stroke-width="1.0" stroke-linejoin="round"/></g>
<g><path d="M216.60,119.80L216.60,101.85A17.95,17.95 0 0,1 231.99,110.56Z" fill="#ff8484" stroke="#3f2121" stroke-width="1.0" stroke-linejoin="round"/><path d="M216.60,119.80L231.99,110.56A17.95,17.95 0 0,1 232.73,111.93Z" fill="#f0f470" stroke="#3c3d1c" stroke-width="0.6" stroke-linejoin="round"/><path d="M216.60,119.80L232.73,111.93A17.95,17.95 0 0,1 233.67,114.25Z" fill="#00f0ff" stroke="#003c3f" stroke-width="1.0" stroke-linejoin="round"/><path d="M216.60,119.80L233.67,114.25A17.95,17.95 0 0,1 234.55,119.80Z" fill="#d4cca0" stroke="#353328" stroke-width="1.0" stroke-linejoin="round"/><path d="M216.60,119.80L234.55,119.80A17.95,17.95 0 0,1 234.45,121.68Z" fill="#ffe8e8" stroke="#3f3a3a" stroke-width="0.6" stroke-linejoin="round"/><path d="M216.60,119.80L234.45,121.68A17.95,17.95 0 0,1 232.45,128.23Z" fill="#000000" stroke="#000000" stroke-width="1.0" stroke-linejoin="round"/><path d="M216.60,119.80L232.45,128.23A17.95,17.95 0 0,1 231.48,129.84Z" fill="#ff70e0" stroke="#3f1c38" stroke-width="0.6" stroke-linejoin="round"/><path d="M216.60,119.80L231.48,129.84A17.95,17.95 0 0,1 221.40,137.10Z" fill="#10f010" stroke="#043c04" stroke-width="1.0" stroke-linejoin="round"/><path d="M216.60,119.80L221.40,137.10A17.95,17.95 0 0,1 211.95,137.14Z" fill="#109010" stroke="#042404" stroke-width="1.0" stroke-linejoin="round"/><path d="M216.60,119.80L211.95,137.14A17.95,17.95 0 0,1 209.88,136.44Z" fill="#a4a4a4" stroke="#292929" stroke-width="0.6" stroke-linejoin="round"/><path d="M216.60,119.80L209.88,136.44A17.95,17.95 0 0,1 208.45,135.79Z" fill="#b000b4" stroke="#2c002d" stroke-width="0.6" stroke-linejoin="round"/><path d="M216.60,119.80L208.45,135.79A17.95,17.95 0 0,1 202.46,130.85Z" fill="#1464f4" stroke="#05193d" stroke-width="1.0" stroke-linejoin="round"/><path d="M216.60,119.80L202.46,130.85A17.95,17.95 0 0,1 201.38,129.31Z" fill="#e8e8e8" stroke="#3a3a3a" stroke-width="0.6" stroke-linejoin="round"/><path d="M216.60,119.80L201.38,129.31A17.95,17.95 0 0,1 199.53,125.35Z" fill="#dcb0ff" stroke="#372c3f" stroke-width="1.0" stroke-linejoin="round"/><path d="M216.60,119.80L199.53,125.35A17.95,17.95 0 0,1 198.66,120.43Z" fill="#a02c10" stroke="#280b04" stroke-width="1.0" stroke-linejoin="round"/><path d="M216.60,119.80L198.66,120.43A17.95,17.95 0 0,1 207.90,104.10Z" fill="#ffff00" stroke="#3f3f00" stroke-width="1.0" stroke-linejoin="round"/><path d="M216.60,119.80L207.90,104.10A17.95,17.95 0 0,1 216.60,101.85Z" fill="#ff0000" stroke="#3f0000" stroke-width="1.0" stroke-linejoin="round"/></g>
<g><path d="M249.70,130.50L249.70,112.65A17.85,17.85 0 0,1 261.55,117.15Z" fill="#ff8484" stroke="#3f2121" stroke-width="1.0" stroke-linejoin="round"/><path d="M249.70,130.50L261.55,117.15A17.85,17.85 0 0,1 262.97,118.56Z" fill="#ff70e0" stroke="#3f1c38" stroke-width="0.6" stroke-linejoin="round"/><path d="M249.70,130.50L262.97,118.56A17.85,17.85 0 0,1 267.48,128.94Z" fill="#10f010" stroke="#043c04" stroke-width="1.0" stroke-linejoin="round"/><path d="M249.70,130.50L267.48,128.94A17.85,17.85 0 0,1 267.55,130.50Z" fill="#109010" stroke="#042404" stroke-width="0.6" stroke-linejoin="round"/><path d="M249.70,130.50L267.55,130.50A17.85,17.85 0 0,1 267.45,132.37Z" fill="#b000b4" stroke="#2c002d" stroke-width="0.6" stroke-linejoin="round"/><path d="M249.70,130.50L267.45,132.37A17.85,17.85 0 0,1 248.45,148.31Z" fill="#1464f4" stroke="#05193d" stroke-width="1.0" stroke-linejoin="round"/><path d="M249.70,130.50L248.45,148.31A17.85,17.85 0 0,1 245.68,147.89Z" fill="#dcb0ff" stroke="#372c3f" stroke-width="1.0" stroke-linejoin="round"/><path d="M249.70,130.50L245.68,147.89A17.85,17.85 0 0,1 243.59,147.27Z" fill="#a02c10" stroke="#280b04" stroke-width="0.6" stroke-linejoin="round"/><path d="M249.70,130.50L243.59,147.27A17.85,17.85 0 0,1 246.60,112.92Z" fill="#ffff00" stroke="#3f3f00" stroke-width="1.0" stroke-linejoin="round"/><path d="M249.70,130.50L246.60,112.92A17.85,17.85 0 0,1 249.70,112.65Z" fill="#ff0000" stroke="#3f0000" stroke-width="1.0" stroke-linejoin="round"/></g>
<g><path d="M278.40,79.60L278.40,61.55A18.05,18.05 0 0,1 296.44,78.97Z" fill="#ff8484" stroke="#3f2121" stroke-width="1.0" stroke-linejoin="round"/><path d="M278.40,79.60L296.44,78.97A18.05,18.05 0 0,1 296.35,81.49Z" fill="#f0f470" stroke="#3c3d1c" stroke-width="1.0" stroke-linejoin="round"/><path d="M278.40,79.60L296.35,81.49A18.05,18.05 0 0,1 296.18,82.73Z" fill="#109010" stroke="#042404" stroke-width="0.6" stroke-linejoin="round"/><path d="M278.40,79.60L296.18,82.73A18.05,18.05 0 0,1 294.34,88.07Z" fill="#b000b4" stroke="#2c002d" stroke-width="1.0" stroke-linejoin="round"/><path d="M278.40,79.60L294.34,88.07A18.05,18.05 0 0,1 277.46,97.63Z" fill="#dcb0ff" stroke="#372c3f" stroke-width="1.0" stroke-linejoin="round"/><path d="M278.40,79.60L277.46,97.63A18.05,18.05 0 0,1 277.46,61.57Z" fill="#ffff00" stroke="#3f3f00" stroke-width="1.0" stroke-linejoin="round"/><path d="M278.40,79.60L277.46,61.57A18.05,18.05 0 0,1 278.40,61.55Z" fill="#a02c10" stroke="#280b04" stroke-width="0.6" stroke-linejoin="round"/></g>
<g><path d="M335.50,96.60L335.50,78.85A17.75,17.75 0 1,1 327.72,112.55Z" fill="#ff8484" stroke="#3f2121" stroke-width="1.0" stroke-linejoin="round"/><path d="M335.50,96.60L327.72,112.55A17.75,17.75 0 0,1 322.73,108.93Z" fill="#109010" stroke="#042404" stroke-width="1.0" stroke-linejoin="round"/><path d="M335.50,96.60L322.73,108.93A17.75,17.75 0 0,1 324.57,82.61Z" fill="#b000b4" stroke="#2c002d" stroke-width="1.0" stroke-linejoin="round"/><path d="M335.50,96.60L324.57,82.61A17.75,17.75 0 0,1 330.91,79.45Z" fill="#1464f4" stroke="#05193d" stroke-width="1.0" stroke-linejoin="round"/><path d="M335.50,96.60L330.91,79.45A17.75,17.75 0 0,1 332.11,79.18Z" fill="#dcb0ff" stroke="#372c3f" stroke-width="0.6" stroke-linejoin="round"/><path d="M335.50,96.60L332.11,79.18A17.75,17.75 0 0,1 333.64,78.95Z" fill="#a02c10" stroke="#280b04" stroke-width="0.6" stroke-linejoin="round"/><path d="M335.50,96.60L333.64,78.95A17.75,17.75 0 0,1 335.50,78.85Z" fill="#ffff00" stroke="#3f3f00" stroke-width="0.6" stroke-linejoin="round"/></g>
<g><path d="M302.40,105.60L302.40,88.45A17.15,17.15 0 1,1 300.01,122.58Z" fill="#ff8484" stroke="#3f2121" stroke-width="1.0" stroke-linejoin="round"/><path d="M302.40,105.60L300.01,122.58A17.15,17.15 0 0,1 298.54,122.31Z" fill="#f0f470" stroke="#3c3d1c" stroke-width="0.6" stroke-linejoin="round"/><path d="M302.40,105.60L298.54,122.31A17.15,17.15 0 0,1 296.53,121.72Z" fill="#10f010" stroke="#043c04" stroke-width="0.6" stroke-linejoin="round"/><path d="M302.40,105.60L296.53,121.72A17.15,17.15 0 0,1 288.53,115.68Z" fill="#109010" stroke="#042404" stroke-width="1.0" stroke-linejoin="round"/><path d="M302.40,105.60L288.53,115.68A17.15,17.15 0 0,1 287.55,114.17Z" fill="#b000b4" stroke="#2c002d" stroke-width="0.6" stroke-linejoin="round"/><path d="M302.40,105.60L287.55,114.17A17.15,17.15 0 0,1 295.70,89.81Z" fill="#1464f4" stroke="#05193d" stroke-width="1.0" stroke-linejoin="round"/><path d="M302.40,105.60L295.70,89.81A17.15,17.15 0 0,1 297.39,89.20Z" fill="#dcb0ff" stroke="#372c3f" stroke-width="0.6" stroke-linejoin="round"/><path d="M302.40,105.60L297.39,89.20A17.15,17.15 0 0,1 298.83,88.82Z" fill="#a02c10" stroke="#280b04" stroke-width="0.6" stroke-linejoin="round"/><path d="M302.40,105.60L298.83,88.82A17.15,17.15 0 0,1 301.20,88.49Z" fill="#ffff00" stroke="#3f3f00" stroke-width="1.0" stroke-linejoin="round"/><path d="M302.40,105.60L301.20,88.49A17.15,17.15 0 0,1 302.40,88.45Z" fill="#ff0000" stroke="#3f0000" stroke-width="0.6" stroke-linejoin="round"/></g>
<g><path d="M335.30,59.10L335.30,41.75A17.35,17.35 0 1,1 319.45,66.16Z" fill="#ff8484" stroke="#3f2121" stroke-width="1.0" stroke-linejoin="round"/><path d="M335.30,59.10L319.45,66.16A17.35,17.35 0 0,1 318.08,61.21Z" fill="#ff70e0" stroke="#3f1c38" stroke-width="1.0" stroke-linejoin="round"/><path d="M335.30,59.10L318.08,61.21A17.35,17.35 0 0,1 317.99,57.89Z" fill="#109010" stroke="#042404" stroke-width="1.0" stroke-linejoin="round"/><path d="M335.30,59.10L317.99,57.89A17.35,17.35 0 0,1 329.94,42.60Z" fill="#b000b4" stroke="#2c002d" stroke-width="1.0" stroke-linejoin="round"/><path d="M335.30,59.10L329.94,42.60A17.35,17.35 0 0,1 332.89,41.92Z" fill="#dcb0ff" stroke="#372c3f" stroke-width="1.0" stroke-linejoin="round"/><path d="M335.30,59.10L332.89,41.92A17.35,17.35 0 0,1 335.30,41.75Z" fill="#a02c10" stroke="#280b04" stroke-width="1.0" stroke-linejoin="round"/></g>
<g><path d="M386.00,51.40L386.00,33.55A17.85,17.85 0 0,1 396.24,36.78Z" fill="#ff8484" stroke="#3f2121" stroke-width="1.0" stroke-linejoin="round"/><path d="M386.00,51.40L396.24,36.78A17.85,17.85 0 1,1 371.74,40.66Z" fill="#b000b4" stroke="#2c002d" stroke-width="1.0" stroke-linejoin="round"/><path d="M386.00,51.40L371.74,40.66A17.85,17.85 0 0,1 376.02,36.60Z" fill="#1464f4" stroke="#05193d" stroke-width="1.0" stroke-linejoin="round"/><path d="M386.00,51.40L376.02,36.60A17.85,17.85 0 0,1 386.00,33.55Z" fill="#dcb0ff" stroke="#372c3f" stroke-width="1.0" stroke-linejoin="round"/></g>
<g><path d="M426.40,71.30L426.40,53.25A18.05,18.05 0 0,1 442.34,79.77Z" fill="#ff8484" stroke="#3f2121" stroke-width="1.0" stroke-linejoin="round"/><path d="M426.40,71.30L442.34,79.77A18.05,18.05 0 0,1 435.32,86.99Z" fill="#ff70e0" stroke="#3f1c38" stroke-width="1.0" stroke-linejoin="round"/><path d="M426.40,71.30L435.32,86.99A18.05,18.05 0 0,1 408.35,71.62Z" fill="#b000b4" stroke="#2c002d" stroke-width="1.0" stroke-linejoin="round"/><path d="M426.40,71.30L408.35,71.62A18.05,18.05 0 0,1 410.61,62.55Z" fill="#1464f4" stroke="#05193d" stroke-width="1.0" stroke-linejoin="round"/><path d="M426.40,71.30L410.61,62.55A18.05,18.05 0 0,1 426.40,53.25Z" fill="#dcb0ff" stroke="#372c3f" stroke-width="1.0" stroke-linejoin="round"/></g>
<g><path d="M463.40,52.50L463.40,34.55A17.95,17.95 0 0,1 463.40,70.45Z" fill="#b000b4" stroke="#2c002d" stroke-width="1.0" stroke-linejoin="round"/><path d="M463.40,52.50L463.40,70.45A17.95,17.95 0 0,1 458.45,35.25Z" fill="#dcb0ff" stroke="#372c3f" stroke-width="1.0" stroke-linejoin="round"/><path d="M463.40,52.50L458.45,35.25A17.95,17.95 0 0,1 463.40,34.55Z" fill="#ffff00" stroke="#3f3f00" stroke-width="1.0" stroke-linejoin="round"/></g>
<g><path d="M268.00,158.50L268.00,141.95A16.55,16.55 0 0,1 269.73,142.04Z" fill="#ff8484" stroke="#3f2121" stroke-width="0.6" stroke-linejoin="round"/><path d="M268.00,158.50L269.73,142.04A16.55,16.55 0 1,1 265.70,174.89Z" fill="#f0f470" stroke="#3c3d1c" stroke-width="1.0" stroke-linejoin="round"/><path d="M268.00,158.50L265.70,174.89A16.55,16.55 0 0,1 259.73,172.83Z" fill="#109010" stroke="#042404" stroke-width="1.0" stroke-linejoin="round"/><path d="M268.00,158.50L259.73,172.83A16.55,16.55 0 0,1 261.11,143.45Z" fill="#1464f4" stroke="#05193d" stroke-width="1.0" stroke-linejoin="round"/><path d="M268.00,158.50L261.11,143.45A16.55,16.55 0 0,1 267.13,141.97Z" fill="#ffff00" stroke="#3f3f00" stroke-width="1.0" stroke-linejoin="round"/><path d="M268.00,158.50L267.13,141.97A16.55,16.55 0 0,1 268.00,141.95Z" fill="#a02c10" stroke="#280b04" stroke-width="0.6" stroke-linejoin="round"/></g>
<g><path d="M238.60,170.20L238.60,152.25A17.95,17.95 0 0,1 239.54,152.27Z" fill="#ff0000" stroke="#3f0000" stroke-width="0.6" stroke-linejoin="round"/><path d="M238.60,170.20L239.54,152.27A17.95,17.95 0 0,1 246.36,154.01Z" fill="#ff8484" stroke="#3f2121" stroke-width="1.0" stroke-linejoin="round"/><path d="M238.60,170.20L246.36,154.01A17.95,17.95 0 0,1 249.85,156.21Z" fill="#d4cca0" stroke="#353328" stroke-width="1.0" stroke-linejoin="round"/><path d="M238.60,170.20L249.85,156.21A17.95,17.95 0 0,1 256.55,170.51Z" fill="#000000" stroke="#000000" stroke-width="1.0" stroke-linejoin="round"/><path d="M238.60,170.20L256.55,170.51A17.95,17.95 0 0,1 256.28,173.32Z" fill="#10f010" stroke="#043c04" stroke-width="1.0" stroke-linejoin="round"/><path d="M238.60,170.20L256.28,173.32A17.95,17.95 0 0,1 234.26,187.62Z" fill="#a4a4a4" stroke="#292929" stroke-width="1.0" stroke-linejoin="round"/><path d="M238.60,170.20L234.26,187.62A17.95,17.95 0 0,1 231.59,186.72Z" fill="#1464f4" stroke="#05193d" stroke-width="1.0" stroke-linejoin="round"/><path d="M238.60,170.20L231.59,186.72A17.95,17.95 0 0,1 228.30,184.90Z" fill="#a02c10" stroke="#280b04" stroke-width="1.0" stroke-linejoin="round"/><path d="M238.60,170.20L228.30,184.90A17.95,17.95 0 0,1 238.60,152.25Z" fill="#ffff00" stroke="#3f3f00" stroke-width="1.0" stroke-linejoin="round"/></g>
<g><path d="M294.00,140.00L294.00,122.65A17.35,17.35 0 0,1 301.61,124.41Z" fill="#ff8484" stroke="#3f2121" stroke-width="1.0" stroke-linejoin="round"/><path d="M294.00,140.00L301.61,124.41A17.35,17.35 0 0,1 306.27,127.73Z" fill="#f0f470" stroke="#3c3d1c" stroke-width="1.0" stroke-linejoin="round"/><path d="M294.00,140.00L306.27,127.73A17.35,17.35 0 0,1 309.03,131.32Z" fill="#ffe8e8" stroke="#3f3a3a" stroke-width="1.0" stroke-linejoin="round"/><path d="M294.00,140.00L309.03,131.32A17.35,17.35 0 0,1 311.35,140.30Z" fill="#10f010" stroke="#043c04" stroke-width="1.0" stroke-linejoin="round"/><path d="M294.00,140.00L311.35,140.30A17.35,17.35 0 0,1 308.21,149.95Z" fill="#109010" stroke="#042404" stroke-width="1.0" stroke-linejoin="round"/><path d="M294.00,140.00L308.21,149.95A17.35,17.35 0 0,1 306.27,152.27Z" fill="#a4a4a4" stroke="#292929" stroke-width="1.0" stroke-linejoin="round"/><path d="M294.00,140.00L306.27,152.27A17.35,17.35 0 0,1 292.49,157.28Z" fill="#1464f4" stroke="#05193d" stroke-width="1.0" stroke-linejoin="round"/><path d="M294.00,140.00L292.49,157.28A17.35,17.35 0 0,1 289.51,156.76Z" fill="#dcb0ff" stroke="#372c3f" stroke-width="1.0" stroke-linejoin="round"/><path d="M294.00,140.00L289.51,156.76A17.35,17.35 0 0,1 284.05,154.21Z" fill="#a02c10" stroke="#280b04" stroke-width="1.0" stroke-linejoin="round"/><path d="M294.00,140.00L284.05,154.21A17.35,17.35 0 0,1 278.28,132.67Z" fill="#ffff00" stroke="#3f3f00" stroke-width="1.0" stroke-linejoin="round"/><path d="M294.00,140.00L278.28,132.67A17.35,17.35 0 0,1 294.00,122.65Z" fill="#ff0000" stroke="#3f0000" stroke-width="1.0" stroke-linejoin="round"/></g>
<g><path d="M241.10,208.90L241.10,190.75A18.15,18.15 0 0,1 245.95,191.41Z" fill="#ff8484" stroke="#3f2121" stroke-width="1.0" stroke-linejoin="round"/><path d="M241.10,208.90L245.95,191.41A18.15,18.15 0 0,1 257.88,201.98Z" fill="#d4cca0" stroke="#353328" stroke-width="1.0" stroke-linejoin="round"/><path d="M241.10,208.90L257.88,201.98A18.15,18.15 0 0,1 255.00,220.57Z" fill="#000000" stroke="#000000" stroke-width="1.0" stroke-linejoin="round"/><path d="M241.10,208.90L255.00,220.57A18.15,18.15 0 0,1 242.46,227.00Z" fill="#10f010" stroke="#043c04" stroke-width="1.0" stroke-linejoin="round"/><path d="M241.10,208.90L242.46,227.00A18.15,18.15 0 0,1 223.35,205.13Z" fill="#a4a4a4" stroke="#292929" stroke-width="1.0" stroke-linejoin="round"/><path d="M241.10,208.90L223.35,205.13A18.15,18.15 0 0,1 223.74,203.59Z" fill="#1464f4" stroke="#05193d" stroke-width="0.6" stroke-linejoin="round"/><path d="M241.10,208.90L223.74,203.59A18.15,18.15 0 0,1 230.69,194.03Z" fill="#a02c10" stroke="#280b04" stroke-width="1.0" stroke-linejoin="round"/><path d="M241.10,208.90L230.69,194.03A18.15,18.15 0 0,1 240.15,190.77Z" fill="#ffff00" stroke="#3f3f00" stroke-width="1.0" stroke-linejoin="round"/><path d="M241.10,208.90L240.15,190.77A18.15,18.15 0 0,1 241.10,190.75Z" fill="#ff0000" stroke="#3f0000" stroke-width="0.6" stroke-linejoin="round"/></g>
<g><path d="M337.50,144.10L337.50,126.45A17.65,17.65 0 0,1 342.36,127.13Z" fill="#ff8484" stroke="#3f2121" stroke-width="1.0" stroke-linejoin="round"/><path d="M337.50,144.10L342.36,127.13A17.65,17.65 0 0,1 344.96,128.10Z" fill="#f0f470" stroke="#3c3d1c" stroke-width="1.0" stroke-linejoin="round"/><path d="M337.50,144.10L344.96,128.10A17.65,17.65 0 0,1 346.85,129.13Z" fill="#10f010" stroke="#043c04" stroke-width="0.6" stroke-linejoin="round"/><path d="M337.50,144.10L346.85,129.13A17.65,17.65 0 0,1 354.70,140.13Z" fill="#109010" stroke="#042404" stroke-width="1.0" stroke-linejoin="round"/><path d="M337.50,144.10L354.70,140.13A17.65,17.65 0 1,1 330.04,128.10Z" fill="#1464f4" stroke="#05193d" stroke-width="1.0" stroke-linejoin="round"/><path d="M337.50,144.10L330.04,128.10A17.65,17.65 0 0,1 333.83,126.84Z" fill="#dcb0ff" stroke="#372c3f" stroke-width="1.0" stroke-linejoin="round"/><path d="M337.50,144.10L333.83,126.84A17.65,17.65 0 0,1 336.58,126.47Z" fill="#d4cca0" stroke="#353328" stroke-width="1.0" stroke-linejoin="round"/><path d="M337.50,144.10L336.58,126.47A17.65,17.65 0 0,1 337.50,126.45Z" fill="#a02c10" stroke="#280b04" stroke-width="0.6" stroke-linejoin="round"/></g>
<g><path d="M310.00,172.00L310.00,154.45A17.55,17.55 0 0,1 319.30,157.12Z" fill="#ff8484" stroke="#3f2121" stroke-width="1.0" stroke-linejoin="round"/><path d="M310.00,172.00L319.30,157.12A17.55,17.55 0 0,1 323.83,161.20Z" fill="#f0f470" stroke="#3c3d1c" stroke-width="1.0" stroke-linejoin="round"/><path d="M310.00,172.00L323.83,161.20A17.55,17.55 0 0,1 327.42,174.14Z" fill="#109010" stroke="#042404" stroke-width="1.0" stroke-linejoin="round"/><path d="M310.00,172.00L327.42,174.14A17.55,17.55 0 1,1 310.00,154.45Z" fill="#1464f4" stroke="#05193d" stroke-width="1.0" stroke-linejoin="round"/></g>
<g><path d="M342.10,201.60L342.10,184.15A17.45,17.45 0 0,1 352.60,187.66Z" fill="#ff8484" stroke="#3f2121" stroke-width="1.0" stroke-linejoin="round"/><path d="M342.10,201.60L352.60,187.66A17.45,17.45 0 0,1 354.65,189.48Z" fill="#f0f470" stroke="#3c3d1c" stroke-width="1.0" stroke-linejoin="round"/><path d="M342.10,201.60L354.65,189.48A17.45,17.45 0 0,1 356.57,191.84Z" fill="#109010" stroke="#042404" stroke-width="1.0" stroke-linejoin="round"/><path d="M342.10,201.60L356.57,191.84A17.45,17.45 0 1,1 340.28,184.25Z" fill="#1464f4" stroke="#05193d" stroke-width="1.0" stroke-linejoin="round"/><path d="M342.10,201.60L340.28,184.25A17.45,17.45 0 0,1 342.10,184.15Z" fill="#a02c10" stroke="#280b04" stroke-width="0.6" stroke-linejoin="round"/></g>
<g><path d="M393.60,138.10L393.60,120.55A17.55,17.55 0 0,1 406.07,125.76Z" fill="#ff8484" stroke="#3f2121" stroke-width="1.0" stroke-linejoin="round"/><path d="M393.60,138.10L406.07,125.76A17.55,17.55 0 0,1 395.83,155.51Z" fill="#f0f470" stroke="#3c3d1c" stroke-width="1.0" stroke-linejoin="round"/><path d="M393.60,138.10L395.83,155.51A17.55,17.55 0 0,1 391.77,155.55Z" fill="#b000b4" stroke="#2c002d" stroke-width="1.0" stroke-linejoin="round"/><path d="M393.60,138.10L391.77,155.55A17.55,17.55 0 0,1 393.60,120.55Z" fill="#1464f4" stroke="#05193d" stroke-width="1.0" stroke-linejoin="round"/></g>
<g><path d="M290.10,228.10L290.10,210.55A17.55,17.55 0 0,1 290.71,210.56Z" fill="#ffffc8" stroke="#ffffc8" stroke-width="0.3" stroke-linejoin="round"/><path d="M290.10,228.10L290.71,210.56A17.55,17.55 0 0,1 293.15,210.82Z" fill="#ff8484" stroke="#3f2121" stroke-width="1.0" stroke-linejoin="round"/><path d="M290.10,228.10L293.15,210.82A17.55,17.55 0 0,1 295.23,211.32Z" fill="#f0f470" stroke="#3c3d1c" stroke-width="0.6" stroke-linejoin="round"/><path d="M290.10,228.10L295.23,211.32A17.55,17.55 0 0,1 297.24,212.07Z" fill="#d4cca0" stroke="#353328" stroke-width="0.6" stroke-linejoin="round"/><path d="M290.10,228.10L297.24,212.07A17.55,17.55 0 0,1 300.42,213.90Z" fill="#ffe8e8" stroke="#3f3a3a" stroke-width="1.0" stroke-linejoin="round"/><path d="M290.10,228.10L300.42,213.90A17.55,17.55 0 0,1 306.54,221.95Z" fill="#109010" stroke="#042404" stroke-width="1.0" stroke-linejoin="round"/><path d="M290.10,228.10L306.54,221.95A17.55,17.55 0 0,1 307.38,225.05Z" fill="#ff9a10" stroke="#3f2604" stroke-width="1.0" stroke-linejoin="round"/><path d="M290.10,228.10L307.38,225.05A17.55,17.55 0 0,1 307.58,226.57Z" fill="#a02c10" stroke="#280b04" stroke-width="0.6" stroke-linejoin="round"/><path d="M290.10,228.10L307.58,226.57A17.55,17.55 0 1,1 287.66,210.72Z" fill="#1464f4" stroke="#05193d" stroke-width="1.0" stroke-linejoin="round"/><path d="M290.10,228.10L287.66,210.72A17.55,17.55 0 0,1 290.10,210.55Z" fill="#ffffc8" stroke="#ffffc8" stroke-width="0.3" stroke-linejoin="round"/></g>
<g><path d="M321.90,238.40L321.90,220.75A17.65,17.65 0 0,1 337.96,231.08Z" fill="#ff8484" stroke="#3f2121" stroke-width="1.0" stroke-linejoin="round"/><path d="M321.90,238.40L337.96,231.08A17.65,17.65 0 0,1 339.10,234.43Z" fill="#f0f470" stroke="#3c3d1c" stroke-width="1.0" stroke-linejoin="round"/><path d="M321.90,238.40L339.10,234.43A17.65,17.65 0 0,1 337.90,245.86Z" fill="#109010" stroke="#042404" stroke-width="1.0" stroke-linejoin="round"/><path d="M321.90,238.40L337.90,245.86A17.65,17.65 0 1,1 321.90,220.75Z" fill="#1464f4" stroke="#05193d" stroke-width="1.0" stroke-linejoin="round"/></g>
<g><path d="M283.30,264.60L283.30,246.75A17.85,17.85 0 0,1 284.86,246.82Z" fill="#a02c10" stroke="#280b04" stroke-width="0.6" stroke-linejoin="round"/><path d="M283.30,264.60L284.86,246.82A17.85,17.85 0 0,1 293.94,250.27Z" fill="#f0f470" stroke="#3c3d1c" stroke-width="1.0" stroke-linejoin="round"/><path d="M283.30,264.60L293.94,250.27A17.85,17.85 0 0,1 300.54,259.98Z" fill="#109010" stroke="#042404" stroke-width="1.0" stroke-linejoin="round"/><path d="M283.30,264.60L300.54,259.98A17.85,17.85 0 1,1 283.30,246.75Z" fill="#1464f4" stroke="#05193d" stroke-width="1.0" stroke-linejoin="round"/></g>
<g><path d="M368.10,253.90L368.10,236.25A17.65,17.65 0 0,1 385.74,253.28Z" fill="#ff8484" stroke="#3f2121" stroke-width="1.0" stroke-linejoin="round"/><path d="M368.10,253.90L385.74,253.28A17.65,17.65 0 0,1 384.22,261.08Z" fill="#109010" stroke="#042404" stroke-width="1.0" stroke-linejoin="round"/><path d="M368.10,253.90L384.22,261.08A17.65,17.65 0 1,1 367.33,236.27Z" fill="#ff9a10" stroke="#3f2604" stroke-width="1.0" stroke-linejoin="round"/><path d="M368.10,253.90L367.33,236.27A17.65,17.65 0 0,1 368.10,236.25Z" fill="#000000" stroke="#000000" stroke-width="0.6" stroke-linejoin="round"/></g>
<g><path d="M409.00,246.00L409.00,228.55A17.45,17.45 0 0,1 421.01,233.34Z" fill="#ff8484" stroke="#3f2121" stroke-width="1.0" stroke-linejoin="round"/><path d="M409.00,246.00L421.01,233.34A17.45,17.45 0 1,1 396.66,258.34Z" fill="#109010" stroke="#042404" stroke-width="1.0" stroke-linejoin="round"/><path d="M409.00,246.00L396.66,258.34A17.45,17.45 0 0,1 402.75,229.71Z" fill="#ff9a10" stroke="#3f2604" stroke-width="1.0" stroke-linejoin="round"/><path d="M409.00,246.00L402.75,229.71A17.45,17.45 0 0,1 409.00,228.55Z" fill="#1464f4" stroke="#05193d" stroke-width="1.0" stroke-linejoin="round"/></g>
<g><path d="M404.70,273.60L404.70,256.15A17.45,17.45 0 0,1 407.13,256.32Z" fill="#ff8484" stroke="#3f2121" stroke-width="1.0" stroke-linejoin="round"/><path d="M404.70,273.60L407.13,256.32A17.45,17.45 0 1,1 393.84,287.26Z" fill="#109010" stroke="#042404" stroke-width="1.0" stroke-linejoin="round"/><path d="M404.70,273.60L393.84,287.26A17.45,17.45 0 0,1 401.19,256.51Z" fill="#ff9a10" stroke="#3f2604" stroke-width="1.0" stroke-linejoin="round"/><path d="M404.70,273.60L401.19,256.51A17.45,17.45 0 0,1 404.70,256.15Z" fill="#1464f4" stroke="#05193d" stroke-width="1.0" stroke-linejoin="round"/></g>
<g><path d="M367.70,313.80L367.70,296.05A17.75,17.75 0 1,1 353.34,324.23Z" fill="#ff8484" stroke="#3f2121" stroke-width="1.0" stroke-linejoin="round"/><path d="M367.70,313.80L353.34,324.23A17.75,17.75 0 0,1 352.65,323.21Z" fill="#f0f470" stroke="#3c3d1c" stroke-width="0.6" stroke-linejoin="round"/><path d="M367.70,313.80L352.65,323.21A17.75,17.75 0 0,1 361.34,297.23Z" fill="#109010" stroke="#042404" stroke-width="1.0" stroke-linejoin="round"/><path d="M367.70,313.80L361.34,297.23A17.75,17.75 0 0,1 367.08,296.06Z" fill="#a02c10" stroke="#280b04" stroke-width="1.0" stroke-linejoin="round"/><path d="M367.70,313.80L367.08,296.06A17.75,17.75 0 0,1 367.70,296.05Z" fill="#000000" stroke="#000000" stroke-width="0.6" stroke-linejoin="round"/></g>
<g><path d="M463.80,367.90L463.80,350.15A17.75,17.75 0 1,1 447.02,362.12Z" fill="#ff8484" stroke="#3f2121" stroke-width="1.0" stroke-linejoin="round"/><path d="M463.80,367.90L447.02,362.12A17.75,17.75 0 0,1 449.17,357.85Z" fill="#ffffff" stroke="#3f3f3f" stroke-width="1.0" stroke-linejoin="round"/><path d="M463.80,367.90L449.17,357.85A17.75,17.75 0 0,1 452.87,353.91Z" fill="#b000b4" stroke="#2c002d" stroke-width="1.0" stroke-linejoin="round"/><path d="M463.80,367.90L452.87,353.91A17.75,17.75 0 0,1 463.80,350.15Z" fill="#1464f4" stroke="#05193d" stroke-width="1.0" stroke-linejoin="round"/></g>
<g><path d="M492.50,297.50L492.50,279.55A17.95,17.95 0 0,1 508.27,306.06Z" fill="#ff8484" stroke="#3f2121" stroke-width="1.0" stroke-linejoin="round"/><path d="M492.50,297.50L508.27,306.06A17.95,17.95 0 0,1 504.86,310.52Z" fill="#109010" stroke="#042404" stroke-width="1.0" stroke-linejoin="round"/><path d="M492.50,297.50L504.86,310.52A17.95,17.95 0 0,1 499.51,314.02Z" fill="#ff9a10" stroke="#3f2604" stroke-width="1.0" stroke-linejoin="round"/><path d="M492.50,297.50L499.51,314.02A17.95,17.95 0 1,1 492.50,279.55Z" fill="#1464f4" stroke="#05193d" stroke-width="1.0" stroke-linejoin="round"/></g>
<g><path d="M549.80,297.50L549.80,279.75A17.75,17.75 0 1,1 545.81,314.80Z" fill="#ff8484" stroke="#3f2121" stroke-width="1.0" stroke-linejoin="round"/><path d="M549.80,297.50L545.81,314.80A17.75,17.75 0 0,1 537.47,310.27Z" fill="#109010" stroke="#042404" stroke-width="1.0" stroke-linejoin="round"/><path d="M549.80,297.50L537.47,310.27A17.75,17.75 0 0,1 549.80,279.75Z" fill="#1464f4" stroke="#05193d" stroke-width="1.0" stroke-linejoin="round"/></g>
<g><path d="M73.60,156.00L73.60,138.25A17.75,17.75 0 0,1 74.53,138.27Z" fill="#b0b0ff" stroke="#b0b0ff" stroke-width="0.3" stroke-linejoin="round"/><path d="M73.60,156.00L74.53,138.27A17.75,17.75 0 0,1 78.19,138.85Z" fill="#dcffff" stroke="#373f3f" stroke-width="1.0" stroke-linejoin="round"/><path d="M73.60,156.00L78.19,138.85A17.75,17.75 0 1,1 56.82,150.22Z" fill="#00f0ff" stroke="#003c3f" stroke-width="1.0" stroke-linejoin="round"/><path d="M73.60,156.00L56.82,150.22A17.75,17.75 0 0,1 58.23,147.12Z" fill="#ffe8e8" stroke="#3f3a3a" stroke-width="1.0" stroke-linejoin="round"/><path d="M73.60,156.00L58.23,147.12A17.75,17.75 0 0,1 72.05,138.32Z" fill="#10f010" stroke="#043c04" stroke-width="1.0" stroke-linejoin="round"/><path d="M73.60,156.00L72.05,138.32A17.75,17.75 0 0,1 73.60,138.25Z" fill="#000000" stroke="#000000" stroke-width="0.6" stroke-linejoin="round"/></g>
<g><path d="M78.40,185.00L78.40,167.55A17.45,17.45 0 0,1 79.62,167.59Z" fill="#b0b0ff" stroke="#b0b0ff" stroke-width="0.3" stroke-linejoin="round"/><path d="M78.40,185.00L79.62,167.59A17.45,17.45 0 0,1 92.34,174.50Z" fill="#ffffc8" stroke="#ffffc8" stroke-width="0.3" stroke-linejoin="round"/><path d="M78.40,185.00L92.34,174.50A17.45,17.45 0 1,1 61.05,186.82Z" fill="#dcffff" stroke="#373f3f" stroke-width="1.0" stroke-linejoin="round"/><path d="M78.40,185.00L61.05,186.82A17.45,17.45 0 0,1 76.88,167.62Z" fill="#00f0ff" stroke="#003c3f" stroke-width="1.0" stroke-linejoin="round"/><path d="M78.40,185.00L76.88,167.62A17.45,17.45 0 0,1 78.40,167.55Z" fill="#000000" stroke="#000000" stroke-width="0.6" stroke-linejoin="round"/></g>
<g><path d="M57.10,213.00L57.10,195.25A17.75,17.75 0 1,1 56.64,195.26Z" fill="#dcffff" stroke="#373f3f" stroke-width="1.0" stroke-linejoin="round"/><path d="M57.10,213.00L56.64,195.26A17.75,17.75 0 0,1 57.10,195.25Z" fill="#000000" stroke="#000000" stroke-width="0.6" stroke-linejoin="round"/></g>
<g><path d="M101.00,207.80L101.00,190.35A17.45,17.45 0 0,1 103.43,190.52Z" fill="#b0b0ff" stroke="#b0b0ff" stroke-width="0.3" stroke-linejoin="round"/><path d="M101.00,207.80L103.43,190.52A17.45,17.45 0 0,1 113.55,195.68Z" fill="#ffffc8" stroke="#ffffc8" stroke-width="0.3" stroke-linejoin="round"/><path d="M101.00,207.80L113.55,195.68A17.45,17.45 0 0,1 92.28,222.91Z" fill="#dcffff" stroke="#373f3f" stroke-width="1.0" stroke-linejoin="round"/><path d="M101.00,207.80L92.28,222.91A17.45,17.45 0 0,1 91.24,222.27Z" fill="#109010" stroke="#042404" stroke-width="0.6" stroke-linejoin="round"/><path d="M101.00,207.80L91.24,222.27A17.45,17.45 0 0,1 101.00,190.35Z" fill="#a02c10" stroke="#280b04" stroke-width="1.0" stroke-linejoin="round"/></g>
<g><path d="M115.50,241.10L115.50,223.35A17.75,17.75 0 0,1 118.58,223.62Z" fill="#b0b0ff" stroke="#b0b0ff" stroke-width="0.3" stroke-linejoin="round"/><path d="M115.50,241.10L118.58,223.62A17.75,17.75 0 0,1 131.17,249.43Z" fill="#ffffc8" stroke="#ffffc8" stroke-width="0.3" stroke-linejoin="round"/><path d="M115.50,241.10L131.17,249.43A17.75,17.75 0 1,1 115.50,223.35Z" fill="#dcffff" stroke="#373f3f" stroke-width="1.0" stroke-linejoin="round"/></g>
<g><path d="M136.00,197.70L136.00,179.75A17.95,17.95 0 0,1 140.65,215.04Z" fill="#b0b0ff" stroke="#b0b0ff" stroke-width="0.3" stroke-linejoin="round"/><path d="M136.00,197.70L140.65,215.04A17.95,17.95 0 0,1 125.70,212.40Z" fill="#ffffc8" stroke="#ffffc8" stroke-width="0.3" stroke-linejoin="round"/><path d="M136.00,197.70L125.70,212.40A17.95,17.95 0 0,1 120.61,206.94Z" fill="#dcffff" stroke="#373f3f" stroke-width="1.0" stroke-linejoin="round"/><path d="M136.00,197.70L120.61,206.94A17.95,17.95 0 0,1 125.45,183.18Z" fill="#00f0ff" stroke="#003c3f" stroke-width="1.0" stroke-linejoin="round"/><path d="M136.00,197.70L125.45,183.18A17.95,17.95 0 0,1 136.00,179.75Z" fill="#10f010" stroke="#043c04" stroke-width="1.0" stroke-linejoin="round"/></g>
<g><path d="M158.80,230.50L158.80,212.75A17.75,17.75 0 0,1 172.40,219.09Z" fill="#b0b0ff" stroke="#b0b0ff" stroke-width="0.3" stroke-linejoin="round"/><path d="M158.80,230.50L172.40,219.09A17.75,17.75 0 0,1 176.54,229.88Z" fill="#ffffc8" stroke="#ffffc8" stroke-width="0.3" stroke-linejoin="round"/><path d="M158.80,230.50L176.54,229.88A17.75,17.75 0 0,1 169.97,244.29Z" fill="#dcffff" stroke="#373f3f" stroke-width="1.0" stroke-linejoin="round"/><path d="M158.80,230.50L169.97,244.29A17.75,17.75 0 1,1 152.15,214.04Z" fill="#00f0ff" stroke="#003c3f" stroke-width="1.0" stroke-linejoin="round"/><path d="M158.80,230.50L152.15,214.04A17.75,17.75 0 0,1 157.25,212.82Z" fill="#10f010" stroke="#043c04" stroke-width="1.0" stroke-linejoin="round"/><path d="M158.80,230.50L157.25,212.82A17.75,17.75 0 0,1 158.80,212.75Z" fill="#000000" stroke="#000000" stroke-width="0.6" stroke-linejoin="round"/></g>
<g><path d="M121.90,317.90L121.90,300.15A17.75,17.75 0 0,1 139.32,321.29Z" fill="#b0b0ff" stroke="#b0b0ff" stroke-width="0.3" stroke-linejoin="round"/><path d="M121.90,317.90L139.32,321.29A17.75,17.75 0 0,1 136.17,328.46Z" fill="#ffffc8" stroke="#ffffc8" stroke-width="0.3" stroke-linejoin="round"/><path d="M121.90,317.90L136.17,328.46A17.75,17.75 0 1,1 113.84,302.08Z" fill="#dcffff" stroke="#373f3f" stroke-width="1.0" stroke-linejoin="round"/><path d="M121.90,317.90L113.84,302.08A17.75,17.75 0 0,1 121.90,300.15Z" fill="#00f0ff" stroke="#003c3f" stroke-width="1.0" stroke-linejoin="round"/></g>
<g><path d="M527.30,60.30L527.30,42.85A17.45,17.45 0 0,1 535.65,75.62Z" fill="#ff8484" stroke="#3f2121" stroke-width="1.0" stroke-linejoin="round"/><path d="M527.30,60.30L535.65,75.62A17.45,17.45 0 0,1 518.57,45.19Z" fill="#dcb0ff" stroke="#372c3f" stroke-width="1.0" stroke-linejoin="round"/><path d="M527.30,60.30L518.57,45.19A17.45,17.45 0 0,1 527.30,42.85Z" fill="#ffffff" stroke="#3f3f3f" stroke-width="1.0" stroke-linejoin="round"/></g>
<g><path d="M566.50,55.80L566.50,37.85A17.95,17.95 0 1,1 561.55,38.55Z" fill="#dcb0ff" stroke="#372c3f" stroke-width="1.0" stroke-linejoin="round"/><path d="M566.50,55.80L561.55,38.55A17.95,17.95 0 0,1 566.50,37.85Z" fill="#ffffff" stroke="#3f3f3f" stroke-width="1.0" stroke-linejoin="round"/></g>
<g><path d="M626.40,84.00L626.40,66.15A17.85,17.85 0 0,1 632.80,67.34Z" fill="#ff8484" stroke="#3f2121" stroke-width="1.0" stroke-linejoin="round"/><path d="M626.40,84.00L632.80,67.34A17.85,17.85 0 1,1 622.38,66.61Z" fill="#dcb0ff" stroke="#372c3f" stroke-width="1.0" stroke-linejoin="round"/><path d="M626.40,84.00L622.38,66.61A17.85,17.85 0 0,1 626.40,66.15Z" fill="#ffffff" stroke="#3f3f3f" stroke-width="1.0" stroke-linejoin="round"/></g>
<g><path d="M658.80,110.60L658.80,92.75A17.85,17.85 0 0,1 674.26,101.67Z" fill="#ff8484" stroke="#3f2121" stroke-width="1.0" stroke-linejoin="round"/><path d="M658.80,110.60L674.26,101.67A17.85,17.85 0 1,1 652.40,93.94Z" fill="#dcb0ff" stroke="#372c3f" stroke-width="1.0" stroke-linejoin="round"/><path d="M658.80,110.60L652.40,93.94A17.85,17.85 0 0,1 658.80,92.75Z" fill="#ffffff" stroke="#3f3f3f" stroke-width="1.0" stroke-linejoin="round"/></g>
<g><path d="M602.70,138.50L602.70,120.95A17.55,17.55 0 1,1 600.87,121.05Z" fill="#dcb0ff" stroke="#372c3f" stroke-width="1.0" stroke-linejoin="round"/><path d="M602.70,138.50L600.87,121.05A17.55,17.55 0 0,1 602.70,120.95Z" fill="#ffffff" stroke="#3f3f3f" stroke-width="0.6" stroke-linejoin="round"/></g>
<g><path d="M633.60,140.80L633.60,123.05A17.75,17.75 0 0,1 648.14,130.62Z" fill="#ff8484" stroke="#3f2121" stroke-width="1.0" stroke-linejoin="round"/><path d="M633.60,140.80L648.14,130.62A17.75,17.75 0 1,1 630.52,123.32Z" fill="#dcb0ff" stroke="#372c3f" stroke-width="1.0" stroke-linejoin="round"/><path d="M633.60,140.80L630.52,123.32A17.75,17.75 0 0,1 633.60,123.05Z" fill="#ffffff" stroke="#3f3f3f" stroke-width="1.0" stroke-linejoin="round"/></g>
<g><path d="M760.00,47.40L760.00,29.65A17.75,17.75 0 0,1 764.59,30.25Z" fill="#ff8484" stroke="#3f2121" stroke-width="1.0" stroke-linejoin="round"/><path d="M760.00,47.40L764.59,30.25A17.75,17.75 0 1,1 752.50,31.31Z" fill="#dcb0ff" stroke="#372c3f" stroke-width="1.0" stroke-linejoin="round"/><path d="M760.00,47.40L752.50,31.31A17.75,17.75 0 0,1 760.00,29.65Z" fill="#ffffff" stroke="#3f3f3f" stroke-width="1.0" stroke-linejoin="round"/></g>
<g><path d="M676.60,205.00L676.60,187.25A17.75,17.75 0 1,1 672.01,187.85Z" fill="#dcb0ff" stroke="#372c3f" stroke-width="1.0" stroke-linejoin="round"/><path d="M676.60,205.00L672.01,187.85A17.75,17.75 0 0,1 676.60,187.25Z" fill="#ffffff" stroke="#3f3f3f" stroke-width="1.0" stroke-linejoin="round"/></g>
<g><path d="M713.80,227.60L713.80,210.05A17.55,17.55 0 1,1 712.27,210.12Z" fill="#dcb0ff" stroke="#372c3f" stroke-width="1.0" stroke-linejoin="round"/><path d="M713.80,227.60L712.27,210.12A17.55,17.55 0 0,1 713.80,210.05Z" fill="#ffffff" stroke="#3f3f3f" stroke-width="0.6" stroke-linejoin="round"/></g>
<g><path d="M748.40,255.00L748.40,237.45A17.55,17.55 0 1,1 746.87,237.52Z" fill="#dcb0ff" stroke="#372c3f" stroke-width="1.0" stroke-linejoin="round"/><path d="M748.40,255.00L746.87,237.52A17.55,17.55 0 0,1 748.40,237.45Z" fill="#ffffff" stroke="#3f3f3f" stroke-width="0.6" stroke-linejoin="round"/></g>
<g><path d="M733.40,332.60L733.40,315.05A17.55,17.55 0 1,1 731.87,315.12Z" fill="#dcb0ff" stroke="#372c3f" stroke-width="1.0" stroke-linejoin="round"/><path d="M733.40,332.60L731.87,315.12A17.55,17.55 0 0,1 733.40,315.05Z" fill="#ffffff" stroke="#3f3f3f" stroke-width="0.6" stroke-linejoin="round"/></g>
</g>
<g filter="url(#tb)">
<text class="l" x="40.8" y="30.5" textLength="8.88" lengthAdjust="spacingAndGlyphs">IC</text>
<text class="l" x="16.8" y="84.3" textLength="12.34" lengthAdjust="spacingAndGlyphs">SC</text>
<text class="l" x="82" y="33.3" textLength="14.79" lengthAdjust="spacingAndGlyphs">NW</text>
<text class="l" x="149.3" y="31.8" textLength="11.85" lengthAdjust="spacingAndGlyphs">SA</text>
<text class="l" x="115.5" y="85" textLength="12.83" lengthAdjust="spacingAndGlyphs">RU</text>
<text class="l" x="63" y="97" textLength="14.30" lengthAdjust="spacingAndGlyphs">GM</text>
<text class="l" x="107" y="149.5" textLength="7.89" lengthAdjust="spacingAndGlyphs">IT</text>
<text class="l" x="23.3" y="120.5" textLength="8.39" lengthAdjust="spacingAndGlyphs">IB</text>
<text class="l" x="124.3" y="108.8" textLength="11.84" lengthAdjust="spacingAndGlyphs">TU</text>
<text class="l" x="167" y="94.3" textLength="12.83" lengthAdjust="spacingAndGlyphs">GE</text>
<text class="l" x="161.8" y="178.3" textLength="13.32" lengthAdjust="spacingAndGlyphs">MA</text>
<text class="l" x="188.8" y="177.5" textLength="11.85" lengthAdjust="spacingAndGlyphs">PE</text>
<text class="l" x="202.5" y="38.3" textLength="12.34" lengthAdjust="spacingAndGlyphs">NE</text>
<text class="l" x="178.3" y="82.5" textLength="11.35" lengthAdjust="spacingAndGlyphs">KT</text>
<text class="l" x="245.8" y="48.3" textLength="10.86" lengthAdjust="spacingAndGlyphs">SL</text>
<text class="l" x="262" y="107.5" textLength="11.35" lengthAdjust="spacingAndGlyphs">KZ</text>
<text class="l" x="217.5" y="144.5" textLength="11.84" lengthAdjust="spacingAndGlyphs">UZ</text>
<text class="l" x="262.5" y="117.5" textLength="12.83" lengthAdjust="spacingAndGlyphs">KG</text>
<text class="l" x="274.3" y="58.3" textLength="10.86" lengthAdjust="spacingAndGlyphs">AL</text>
<text class="l" x="353.8" y="89.5" textLength="12.34" lengthAdjust="spacingAndGlyphs">BU</text>
<text class="l" x="300" y="85.8" textLength="14.30" lengthAdjust="spacingAndGlyphs">MO</text>
<text class="l" x="330.8" y="37.5" textLength="11.85" lengthAdjust="spacingAndGlyphs">EV</text>
<text class="l" x="379.5" y="29.3" textLength="11.19" lengthAdjust="spacingAndGlyphs">YA</text>
<text class="l" x="422.5" y="100.7" textLength="11.85" lengthAdjust="spacingAndGlyphs">KY</text>
<text class="l" x="462" y="82.1" textLength="11.85" lengthAdjust="spacingAndGlyphs">ES</text>
<text class="l" x="267" y="183" textLength="11.35" lengthAdjust="spacingAndGlyphs">TB</text>
<text class="l" x="208.3" y="187.5" textLength="8.88" lengthAdjust="spacingAndGlyphs">IN</text>
<text class="l" x="310" y="131.8" textLength="13.32" lengthAdjust="spacingAndGlyphs">UG</text>
<text class="l" x="209.3" y="223.8" textLength="12.83" lengthAdjust="spacingAndGlyphs">DR</text>
<text class="l" x="349.3" y="164.5" textLength="12.34" lengthAdjust="spacingAndGlyphs">HA</text>
<text class="l" x="330.8" y="175.5" textLength="12.34" lengthAdjust="spacingAndGlyphs">HA</text>
<text class="l" x="362.5" y="202" textLength="12.34" lengthAdjust="spacingAndGlyphs">PH</text>
<text class="l" x="413" y="137" textLength="10.36" lengthAdjust="spacingAndGlyphs">JP</text>
<text class="l" x="256.3" y="235.5" textLength="13.32" lengthAdjust="spacingAndGlyphs">MY</text>
<text class="l" x="318" y="265.5" textLength="12.83" lengthAdjust="spacingAndGlyphs">BO</text>
<text class="l" x="276.3" y="290.8" textLength="12.34" lengthAdjust="spacingAndGlyphs">SU</text>
<text class="l" x="365" y="232" textLength="6.91" lengthAdjust="spacingAndGlyphs">IJ</text>
<text class="l" x="403.8" y="225.5" textLength="12.34" lengthAdjust="spacingAndGlyphs">NB</text>
<text class="l" x="420.5" y="292" textLength="12.83" lengthAdjust="spacingAndGlyphs">PG</text>
<text class="l" x="332.5" y="318.8" textLength="11.85" lengthAdjust="spacingAndGlyphs">AA</text>
<text class="l" x="486.3" y="370.5" textLength="9.86" lengthAdjust="spacingAndGlyphs">MI</text>
<text class="l" x="488" y="275" textLength="14.31" lengthAdjust="spacingAndGlyphs">WS</text>
<text class="l" x="545.8" y="275" textLength="11.35" lengthAdjust="spacingAndGlyphs">FP</text>
<text class="l" x="38" y="160" textLength="13.81" lengthAdjust="spacingAndGlyphs">MC</text>
<text class="l" x="46.3" y="190.8" textLength="12.33" lengthAdjust="spacingAndGlyphs">ML</text>
<text class="l" x="27.5" y="212.5" textLength="11.35" lengthAdjust="spacingAndGlyphs">BF</text>
<text class="l" x="80.5" y="231.3" textLength="12.83" lengthAdjust="spacingAndGlyphs">CN</text>
<text class="l" x="110.5" y="267" textLength="11.85" lengthAdjust="spacingAndGlyphs">PY</text>
<text class="l" x="128.8" y="178.3" textLength="12.34" lengthAdjust="spacingAndGlyphs">SN</text>
<text class="l" x="165.5" y="255.8" textLength="11.35" lengthAdjust="spacingAndGlyphs">ET</text>
<text class="l" x="90" y="320.8" textLength="11.35" lengthAdjust="spacingAndGlyphs">SF</text>
<text class="l" x="520.6" y="38.6" textLength="13.32" lengthAdjust="spacingAndGlyphs">AM</text>
<text class="l" x="562.6" y="33.8" textLength="11.85" lengthAdjust="spacingAndGlyphs">ES</text>
<text class="l" x="619.3" y="61.9" textLength="14.79" lengthAdjust="spacingAndGlyphs">CW</text>
<text class="l" x="680" y="113.3" textLength="12.34" lengthAdjust="spacingAndGlyphs">CY</text>
<text class="l" x="567.5" y="142.5" textLength="13.32" lengthAdjust="spacingAndGlyphs">AM</text>
<text class="l" x="653.8" y="149.3" textLength="11.85" lengthAdjust="spacingAndGlyphs">AP</text>
<text class="l" x="757.6" y="81.4" textLength="11.85" lengthAdjust="spacingAndGlyphs">ES</text>
<text class="l" x="643.3" y="212" textLength="13.32" lengthAdjust="spacingAndGlyphs">AM</text>
<text class="l" x="678" y="234.5" textLength="13.32" lengthAdjust="spacingAndGlyphs">AM</text>
<text class="l" x="715.6" y="262.6" textLength="13.32" lengthAdjust="spacingAndGlyphs">AM</text>
<text class="l" x="698" y="337.6" textLength="13.32" lengthAdjust="spacingAndGlyphs">AM</text>
<text class="b" x="436" y="175.8" textLength="89" lengthAdjust="spacingAndGlyphs">Y Haplogroups</text>
<text class="b" x="447.5" y="192" textLength="73" lengthAdjust="spacingAndGlyphs">of the World</text>
<text class="s" x="29" y="364.20">AA</text>
<text class="s" x="49.5" y="364.20">Australian</text>
<text class="s" x="49.5" y="375.20">Aborigines</text>
<text class="s" x="29" y="386.00">AL</text>
<text class="s" x="49.5" y="386.00">Altaians</text>
<text class="s" x="29" y="397.00">AM</text>
<text class="s" x="49.5" y="397.00">Amerinds</text>
<text class="s" x="29" y="407.80">AP</text>
<text class="s" x="49.5" y="407.80">Apache (N-D)</text>
<text class="s" x="29" y="418.50">BF</text>
<text class="s" x="49.5" y="418.50">Burkina Faso</text>
<text class="s" x="29" y="429.00">BO</text>
<text class="s" x="49.5" y="429.00">Borneo</text>
<text class="s" x="29" y="440.00">BU</text>
<text class="s" x="49.5" y="440.00">Buryats</text>
<text class="s" x="29" y="450.80">CN</text>
<text class="s" x="49.5" y="450.80">Cameroon</text>
<text class="s" x="29" y="461.80">CW</text>
<text class="s" x="49.5" y="461.80">Chippeway (N-D)</text>
<text class="s" x="29" y="472.50">CY</text>
<text class="s" x="49.5" y="472.50">Cheyenne</text>
<text class="s" x="29" y="483.20">DR</text>
<text class="s" x="49.5" y="483.20">Dravidian</text>
<text class="s" x="29" y="494.00">ES</text>
<text class="s" x="49.5" y="494.00">Eskimos</text>
<text class="s" x="29" y="505.50">ET</text>
<text class="s" x="49.5" y="505.50">Ethiopia</text>
<text class="s" x="29" y="516.60">EV</text>
<text class="s" x="49.5" y="516.60">Evenks</text>
<text class="s" x="29" y="527.20">FP</text>
<text class="s" x="49.5" y="527.20">French Polynesia</text>
<text class="s" x="29" y="538.20">GE</text>
<text class="s" x="49.5" y="538.20">Georgia-Armenia</text>
<text class="s" x="29" y="549.00">GM</text>
<text class="s" x="49.5" y="549.00">Germany</text>
<text class="s" x="29" y="559.70">HA</text>
<text class="s" x="49.5" y="559.70">Han Chinese</text>
<text class="s" x="130.5" y="364.20">IB</text>
<text class="s" x="151" y="364.20">Iberia</text>
<text class="s" x="130.5" y="375.20">IC</text>
<text class="s" x="151" y="375.20">Iceland</text>
<text class="s" x="130.5" y="386.00">IJ</text>
<text class="s" x="151" y="386.00">Irian Jaya</text>
<text class="s" x="151" y="397.00">Highlands</text>
<text class="s" x="130.5" y="407.80">IN</text>
<text class="s" x="151" y="407.80">Indo-European</text>
<text class="s" x="130.5" y="418.50">IT</text>
<text class="s" x="151" y="418.50">Italy</text>
<text class="s" x="130.5" y="429.00">JP</text>
<text class="s" x="151" y="429.00">Japan</text>
<text class="s" x="130.5" y="440.00">KG</text>
<text class="s" x="151" y="440.00">Kyrgyzstan</text>
<text class="s" x="130.5" y="450.80">KT</text>
<text class="s" x="151" y="450.80">Kazan Tatar</text>
<text class="s" x="130.5" y="461.80">KY</text>
<text class="s" x="151" y="461.80">Koryaks</text>
<text class="s" x="130.5" y="472.50">KZ</text>
<text class="s" x="151" y="472.50">Kazakhstan</text>
<text class="s" x="130.5" y="483.20">MA</text>
<text class="s" x="151" y="483.20">Mideast Arabs</text>
<text class="s" x="130.5" y="494.00">MC</text>
<text class="s" x="151" y="494.00">Morocco</text>
<text class="s" x="130.5" y="505.50">MI</text>
<text class="s" x="151" y="505.50">Maori</text>
<text class="s" x="130.5" y="516.60">ML</text>
<text class="s" x="151" y="516.60">Mali</text>
<text class="s" x="130.5" y="527.20">MO</text>
<text class="s" x="151" y="527.20">Mongols</text>
<text class="s" x="130.5" y="538.20">MY</text>
<text class="s" x="151" y="538.20">Malaysia</text>
<text class="s" x="130.5" y="549.00">NB</text>
<text class="s" x="151" y="549.00">New Britain</text>
<text class="s" x="130.5" y="559.70">NE</text>
<text class="s" x="151" y="559.70">Nenets</text>
<text class="s" x="218.8" y="364.20">NW</text>
<text class="s" x="239.5" y="364.20">Norwegian</text>
<text class="s" x="218.8" y="375.20">PE</text>
<text class="s" x="239.5" y="375.20">Persian (Iran)</text>
<text class="s" x="218.8" y="386.00">PG</text>
<text class="s" x="239.5" y="386.00">Papua New Guinea</text>
<text class="s" x="239.5" y="397.00">Highlands</text>
<text class="s" x="218.8" y="407.80">PH</text>
<text class="s" x="239.5" y="407.80">Philippines</text>
<text class="s" x="218.8" y="418.50">PY</text>
<text class="s" x="239.5" y="418.50">Pygmy</text>
<text class="s" x="218.8" y="429.00">RU</text>
<text class="s" x="239.5" y="429.00">Russia</text>
<text class="s" x="218.8" y="440.00">SA</text>
<text class="s" x="239.5" y="440.00">Saami</text>
<text class="s" x="218.8" y="450.80">SC</text>
<text class="s" x="239.5" y="450.80">Scotland</text>
<text class="s" x="218.8" y="461.80">SL</text>
<text class="s" x="239.5" y="461.80">Selkups</text>
<text class="s" x="218.8" y="472.50">SF</text>
<text class="s" x="239.5" y="472.50">South Africa</text>
<text class="s" x="218.8" y="483.20">SN</text>
<text class="s" x="239.5" y="483.20">Sudan</text>
<text class="s" x="218.8" y="494.00">SU</text>
<text class="s" x="239.5" y="494.00">Sumatra</text>
<text class="s" x="218.8" y="505.50">TB</text>
<text class="s" x="239.5" y="505.50">Tibet</text>
<text class="s" x="218.8" y="516.60">TU</text>
<text class="s" x="239.5" y="516.60">Turkish</text>
<text class="s" x="218.8" y="527.20">UG</text>
<text class="s" x="239.5" y="527.20">Uygurs</text>
<text class="s" x="218.8" y="538.20">UZ</text>
<text class="s" x="239.5" y="538.20">Uzbek</text>
<text class="s" x="218.8" y="549.00">WS</text>
<text class="s" x="239.5" y="549.00">Western Samoa</text>
<text class="s" x="218.8" y="559.70">YA</text>
<text class="s" x="239.5" y="559.70">Yakuts</text>
<rect x="355.5" y="404.5" width="13" height="14.6" fill="#b0b0ff" stroke="#777" stroke-width="1"/>
<text class="b" x="376" y="417.3">A</text>
<rect x="402.8" y="404.5" width="13" height="14.6" fill="#ffffc8" stroke="#777" stroke-width="1"/>
<text class="b" x="423.5" y="417.3">B</text>
<rect x="450.1" y="404.5" width="13" height="14.6" fill="#ff8484" stroke="#777" stroke-width="1"/>
<text class="b" x="471" y="417.3">C</text>
<rect x="497.5" y="404.5" width="13" height="14.6" fill="#f0f470" stroke="#777" stroke-width="1"/>
<text class="b" x="518.5" y="417.3">D</text>
<rect x="545.0" y="404.5" width="13" height="14.6" fill="#dcffff" stroke="#777" stroke-width="1"/>
<text class="b" x="563.5" y="417.3">ExE3b</text>
<rect x="606.0" y="404.5" width="13" height="14.6" fill="#00f0ff" stroke="#777" stroke-width="1"/>
<text class="b" x="627" y="417.3">E3b</text>
<rect x="653.3" y="404.5" width="13" height="14.6" fill="#d4cca0" stroke="#777" stroke-width="1"/>
<text class="b" x="674" y="417.3">F</text>
<rect x="355.5" y="425.1" width="13" height="14.6" fill="#ffe8e8" stroke="#777" stroke-width="1"/>
<text class="b" x="376" y="437.6">G</text>
<rect x="402.8" y="425.1" width="13" height="14.6" fill="#000000" stroke="#777" stroke-width="1"/>
<text class="b" x="423.5" y="437.6">H</text>
<rect x="450.1" y="425.1" width="13" height="14.6" fill="#ff70e0" stroke="#777" stroke-width="1"/>
<text class="b" x="471" y="437.6">I</text>
<rect x="497.5" y="425.1" width="13" height="14.6" fill="#10f010" stroke="#777" stroke-width="1"/>
<text class="b" x="518.5" y="437.6">J</text>
<rect x="545.0" y="425.1" width="13" height="14.6" fill="#109010" stroke="#777" stroke-width="1"/>
<text class="b" x="566.0" y="437.6">K</text>
<rect x="606.0" y="425.1" width="13" height="14.6" fill="#a4a4a4" stroke="#777" stroke-width="1"/>
<text class="b" x="627" y="437.6">L</text>
<rect x="653.3" y="425.1" width="13" height="14.6" fill="#ff9a10" stroke="#777" stroke-width="1"/>
<text class="b" x="674" y="437.6">M</text>
<rect x="355.5" y="445.7" width="13" height="14.6" fill="#b000b4" stroke="#777" stroke-width="1"/>
<text class="b" x="376" y="458.6">N</text>
<rect x="402.8" y="445.7" width="13" height="14.6" fill="#1464f4" stroke="#777" stroke-width="1"/>
<text class="b" x="423.5" y="458.6">O</text>
<rect x="450.1" y="445.7" width="13" height="14.6" fill="#e8e8e8" stroke="#777" stroke-width="1"/>
<text class="b" x="471" y="458.6">P</text>
<rect x="497.5" y="445.7" width="13" height="14.6" fill="#dcb0ff" stroke="#777" stroke-width="1"/>
<text class="b" x="518.5" y="458.6">Q</text>
<rect x="545.0" y="445.7" width="13" height="14.6" fill="#a02c10" stroke="#777" stroke-width="1"/>
<text class="b" x="566.0" y="458.6">RxR1</text>
<rect x="606.0" y="445.7" width="13" height="14.6" fill="#ffff00" stroke="#777" stroke-width="1"/>
<text class="b" x="627" y="458.6">R1a</text>
<rect x="653.3" y="445.7" width="13" height="14.6" fill="#ff0000" stroke="#777" stroke-width="1"/>
<text class="b" x="674" y="458.6">R1b</text>
<rect x="701.1" y="445.7" width="13" height="14.6" fill="#ffffff" stroke="#777" stroke-width="1"/>
<text class="b" x="721.5" y="458.6">Other</text>
<text class="s" x="355" y="486.00" style="font-size:9.08px" xml:space="preserve">The data in this map is supposed to represent the situation before the recent European expansion</text>
<text class="s" x="355" y="496.75" style="font-size:9.08px" xml:space="preserve">beginning about 1500 AD. In some cases such as some Native American tribes and the Maori this</text>
<text class="s" x="355" y="507.50" style="font-size:9.08px" xml:space="preserve">can be done reliably because STR typing was done. In other cases, especially in America, it is</text>
<text class="s" x="355" y="518.25" style="font-size:9.08px" xml:space="preserve">guesswork. The “Other” sectors in America indicate this. Native American groups are labeled by</text>
<text class="s" x="355" y="529.00" style="font-size:9.08px" xml:space="preserve">language group as Amerind, Na-Dene (N-D), and Eskimo.  F, K, L, and P are in some cases</text>
<text class="s" x="355" y="539.75" style="font-size:9.08px" xml:space="preserve">“catchall” groups because some researchers did not use enough markers for a full haplotype</text>
<text class="s" x="355" y="550.50" style="font-size:9.08px" xml:space="preserve">determination.</text>
<text class="s" x="355" y="567.2" style="font-size:9.08px">Copyright © 2005 J. D. McDonald</text>
</g>
</svg></body></html>
